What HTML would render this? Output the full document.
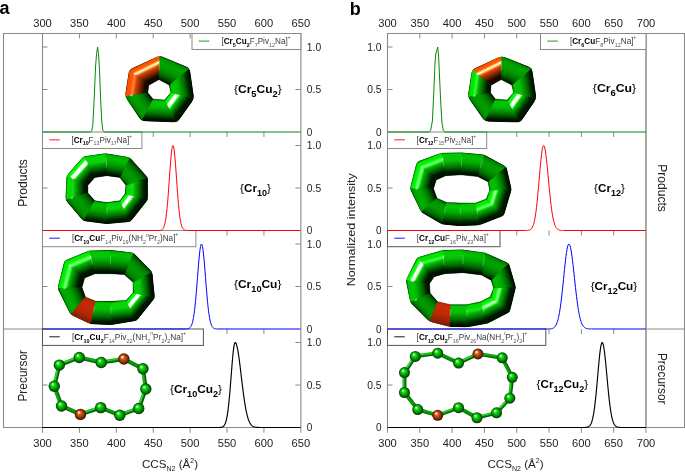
<!DOCTYPE html>
<html lang="en"><head><meta charset="utf-8"><title>CCS distributions</title>
<style>html,body{margin:0;padding:0;background:#fff}svg{display:block}text{font-family:"Liberation Sans",sans-serif}</style></head>
<body>
<svg width="685" height="474" viewBox="0 0 685 474">
<rect width="685" height="474" fill="#fff"/>
<defs>
<clipPath id="c1"><path d="M163.97 57.14 Q159.82 55.4 155.74 57.3 L133.06 67.84 Q128.98 69.74 128.3 74.19 L125.54 92.18 Q124.86 96.63 127.39 100.35 L139.01 117.47 Q141.53 121.19 146.03 121.35 L172.89 122.29 Q177.39 122.45 180 118.78 L191.63 102.45 Q194.24 98.78 193.59 94.33 L190.41 72.4 Q189.76 67.95 185.61 66.21 Z"/></clipPath>
<linearGradient id="g2" gradientUnits="userSpaceOnUse" x1="144.27" y1="62.63" x2="153.94" y2="82.41"><stop offset="0" stop-color="#621d00"/><stop offset="0.03" stop-color="#ce3d00"/><stop offset="0.05" stop-color="#ff4d00"/><stop offset="0.1" stop-color="#ff5500"/><stop offset="0.15" stop-color="#ff5803"/><stop offset="0.17" stop-color="#ff620e"/><stop offset="0.2" stop-color="#ff7d2b"/><stop offset="0.25" stop-color="#ffdf90"/><stop offset="0.28" stop-color="#fffcaf"/><stop offset="0.3" stop-color="#fff3a8"/><stop offset="0.38" stop-color="#ff6e29"/><stop offset="0.4" stop-color="#ee5311"/><stop offset="0.45" stop-color="#cc3e02"/><stop offset="0.7" stop-color="#561a00"/><stop offset="0.8" stop-color="#1a0800"/><stop offset="0.97" stop-color="#130600"/><stop offset="1" stop-color="#0a0300"/></linearGradient>
<linearGradient id="g3" gradientUnits="userSpaceOnUse" x1="126.72" y1="84.56" x2="148.46" y2="87.73"><stop offset="0" stop-color="#5b1b00"/><stop offset="0.03" stop-color="#c13a00"/><stop offset="0.05" stop-color="#f34800"/><stop offset="0.07" stop-color="#ff5000"/><stop offset="0.2" stop-color="#ff5607"/><stop offset="0.28" stop-color="#ff7b30"/><stop offset="0.3" stop-color="#ff7e35"/><stop offset="0.35" stop-color="#ff6722"/><stop offset="0.42" stop-color="#d54204"/><stop offset="0.7" stop-color="#5d1c00"/><stop offset="0.82" stop-color="#1a0800"/><stop offset="0.97" stop-color="#130600"/><stop offset="1" stop-color="#0a0300"/></linearGradient>
<linearGradient id="g4" gradientUnits="userSpaceOnUse" x1="133.07" y1="108.73" x2="150.62" y2="96.18"><stop offset="0" stop-color="#001d00"/><stop offset="0.03" stop-color="#004f00"/><stop offset="0.05" stop-color="#006d00"/><stop offset="0.07" stop-color="#008100"/><stop offset="0.23" stop-color="#009c00"/><stop offset="0.47" stop-color="#009c00"/><stop offset="0.72" stop-color="#007800"/><stop offset="0.9" stop-color="#004200"/><stop offset="0.97" stop-color="#001000"/><stop offset="1" stop-color="#000900"/></linearGradient>
<linearGradient id="g5" gradientUnits="userSpaceOnUse" x1="158.69" y1="121.78" x2="159.7" y2="99.62"><stop offset="0" stop-color="#000900"/><stop offset="0.1" stop-color="#001600"/><stop offset="0.12" stop-color="#001600"/><stop offset="0.35" stop-color="#007000"/><stop offset="0.65" stop-color="#03ba03"/><stop offset="0.88" stop-color="#00c600"/><stop offset="0.93" stop-color="#00c000"/><stop offset="0.95" stop-color="#00aa00"/><stop offset="0.97" stop-color="#008500"/><stop offset="1" stop-color="#003c00"/></linearGradient>
<linearGradient id="g6" gradientUnits="userSpaceOnUse" x1="186.05" y1="110.3" x2="167.56" y2="96.59"><stop offset="0" stop-color="#000900"/><stop offset="0.1" stop-color="#001600"/><stop offset="0.23" stop-color="#001b00"/><stop offset="0.47" stop-color="#009000"/><stop offset="0.57" stop-color="#09be09"/><stop offset="0.6" stop-color="#1edb1e"/><stop offset="0.62" stop-color="#51ff51"/><stop offset="0.65" stop-color="#b4ffb4"/><stop offset="0.68" stop-color="#ffffff"/><stop offset="0.78" stop-color="#ffffff"/><stop offset="0.8" stop-color="#d7ffd7"/><stop offset="0.82" stop-color="#54ff54"/><stop offset="0.85" stop-color="#16ff16"/><stop offset="0.88" stop-color="#03ff03"/><stop offset="0.93" stop-color="#00fd00"/><stop offset="0.95" stop-color="#00e600"/><stop offset="0.97" stop-color="#00b800"/><stop offset="1" stop-color="#005900"/></linearGradient>
<linearGradient id="g7" gradientUnits="userSpaceOnUse" x1="192.14" y1="84.23" x2="169.9" y2="87.87"><stop offset="0" stop-color="#000900"/><stop offset="0.1" stop-color="#001600"/><stop offset="0.15" stop-color="#001f00"/><stop offset="0.35" stop-color="#006f00"/><stop offset="0.65" stop-color="#04bc04"/><stop offset="0.88" stop-color="#00c800"/><stop offset="0.93" stop-color="#00c300"/><stop offset="0.95" stop-color="#00ad00"/><stop offset="0.97" stop-color="#008700"/><stop offset="1" stop-color="#003d00"/></linearGradient>
<linearGradient id="g8" gradientUnits="userSpaceOnUse" x1="174.14" y1="61.38" x2="164.68" y2="82.58"><stop offset="0" stop-color="#002200"/><stop offset="0.03" stop-color="#005800"/><stop offset="0.05" stop-color="#007700"/><stop offset="0.07" stop-color="#008b00"/><stop offset="0.23" stop-color="#00a300"/><stop offset="0.47" stop-color="#009d00"/><stop offset="0.72" stop-color="#007300"/><stop offset="0.9" stop-color="#003800"/><stop offset="0.97" stop-color="#001000"/><stop offset="1" stop-color="#000900"/></linearGradient>
<clipPath id="c9"><path d="M505.77 57.43 Q501.59 55.76 497.52 57.67 L475.9 67.83 Q471.83 69.74 471.16 74.19 L468.38 92.54 Q467.71 96.99 470.27 100.69 L482.18 117.85 Q484.74 121.55 489.24 121.66 L515.92 122.33 Q520.42 122.45 522.95 118.73 L534.02 102.5 Q536.55 98.78 535.9 94.33 L532.72 72.4 Q532.07 67.95 527.89 66.28 Z"/></clipPath>
<linearGradient id="g10" gradientUnits="userSpaceOnUse" x1="486.59" y1="62.81" x2="496.25" y2="82.41"><stop offset="0" stop-color="#621d00"/><stop offset="0.03" stop-color="#ce3d00"/><stop offset="0.05" stop-color="#ff4d00"/><stop offset="0.1" stop-color="#ff5500"/><stop offset="0.15" stop-color="#ff5803"/><stop offset="0.17" stop-color="#ff620f"/><stop offset="0.2" stop-color="#ff7e2c"/><stop offset="0.25" stop-color="#ffe393"/><stop offset="0.28" stop-color="#ffffb3"/><stop offset="0.3" stop-color="#fff6ab"/><stop offset="0.38" stop-color="#ff6e2a"/><stop offset="0.4" stop-color="#ee5311"/><stop offset="0.45" stop-color="#cc3e02"/><stop offset="0.7" stop-color="#561a00"/><stop offset="0.8" stop-color="#1a0800"/><stop offset="0.97" stop-color="#130600"/><stop offset="1" stop-color="#0a0300"/></linearGradient>
<linearGradient id="g11" gradientUnits="userSpaceOnUse" x1="469.58" y1="84.8" x2="490.94" y2="87.66"><stop offset="0" stop-color="#004c00"/><stop offset="0.03" stop-color="#00a200"/><stop offset="0.05" stop-color="#00cc00"/><stop offset="0.07" stop-color="#00e300"/><stop offset="0.2" stop-color="#06e506"/><stop offset="0.28" stop-color="#2cff2c"/><stop offset="0.3" stop-color="#31ff31"/><stop offset="0.35" stop-color="#20e320"/><stop offset="0.42" stop-color="#04b404"/><stop offset="0.72" stop-color="#004400"/><stop offset="0.82" stop-color="#001600"/><stop offset="0.97" stop-color="#001000"/><stop offset="1" stop-color="#000900"/></linearGradient>
<linearGradient id="g12" gradientUnits="userSpaceOnUse" x1="475.92" y1="108.85" x2="493.29" y2="96.43"><stop offset="0" stop-color="#001d00"/><stop offset="0.03" stop-color="#004f00"/><stop offset="0.05" stop-color="#006d00"/><stop offset="0.07" stop-color="#008100"/><stop offset="0.23" stop-color="#009c00"/><stop offset="0.47" stop-color="#009c00"/><stop offset="0.72" stop-color="#007800"/><stop offset="0.9" stop-color="#004200"/><stop offset="0.97" stop-color="#001000"/><stop offset="1" stop-color="#000900"/></linearGradient>
<linearGradient id="g13" gradientUnits="userSpaceOnUse" x1="501.57" y1="121.96" x2="502.42" y2="99.63"><stop offset="0" stop-color="#000900"/><stop offset="0.1" stop-color="#001600"/><stop offset="0.12" stop-color="#001600"/><stop offset="0.35" stop-color="#007000"/><stop offset="0.65" stop-color="#03bb03"/><stop offset="0.88" stop-color="#00c700"/><stop offset="0.93" stop-color="#00c100"/><stop offset="0.95" stop-color="#00ab00"/><stop offset="0.97" stop-color="#008600"/><stop offset="1" stop-color="#003c00"/></linearGradient>
<linearGradient id="g14" gradientUnits="userSpaceOnUse" x1="528.81" y1="110.15" x2="510.13" y2="96.73"><stop offset="0" stop-color="#000900"/><stop offset="0.1" stop-color="#001600"/><stop offset="0.23" stop-color="#001b00"/><stop offset="0.47" stop-color="#009000"/><stop offset="0.57" stop-color="#09be09"/><stop offset="0.6" stop-color="#1edb1e"/><stop offset="0.62" stop-color="#50ff50"/><stop offset="0.65" stop-color="#b2ffb2"/><stop offset="0.68" stop-color="#ffffff"/><stop offset="0.78" stop-color="#ffffff"/><stop offset="0.8" stop-color="#d2ffd2"/><stop offset="0.82" stop-color="#51ff51"/><stop offset="0.85" stop-color="#15ff15"/><stop offset="0.88" stop-color="#03ff03"/><stop offset="0.93" stop-color="#00fd00"/><stop offset="0.95" stop-color="#00e500"/><stop offset="0.97" stop-color="#00b800"/><stop offset="1" stop-color="#005900"/></linearGradient>
<linearGradient id="g15" gradientUnits="userSpaceOnUse" x1="534.46" y1="84.26" x2="512.56" y2="87.84"><stop offset="0" stop-color="#000900"/><stop offset="0.1" stop-color="#001600"/><stop offset="0.15" stop-color="#001f00"/><stop offset="0.35" stop-color="#006f00"/><stop offset="0.65" stop-color="#04bc04"/><stop offset="0.88" stop-color="#00c800"/><stop offset="0.93" stop-color="#00c300"/><stop offset="0.95" stop-color="#00ad00"/><stop offset="0.97" stop-color="#008700"/><stop offset="1" stop-color="#003d00"/></linearGradient>
<linearGradient id="g16" gradientUnits="userSpaceOnUse" x1="516.17" y1="61.57" x2="507.18" y2="82.57"><stop offset="0" stop-color="#002300"/><stop offset="0.03" stop-color="#005a00"/><stop offset="0.05" stop-color="#007900"/><stop offset="0.07" stop-color="#008d00"/><stop offset="0.23" stop-color="#00a400"/><stop offset="0.47" stop-color="#009d00"/><stop offset="0.72" stop-color="#007100"/><stop offset="0.9" stop-color="#003600"/><stop offset="0.97" stop-color="#001000"/><stop offset="1" stop-color="#000900"/></linearGradient>
<clipPath id="c17"><path d="M108.99 153.69 Q106.03 153.19 103.06 153.6 L86.51 155.89 Q83.54 156.3 81.55 158.55 L68.4 173.43 Q66.42 175.68 66.29 178.67 L65.51 196.9 Q65.38 199.89 67.31 202.19 L81.26 218.71 Q83.2 221 86.17 221.39 L103.92 223.72 Q106.89 224.11 109.88 223.83 L127.61 222.15 Q130.59 221.86 132.45 219.51 L146.03 202.25 Q147.89 199.89 147.89 196.89 L147.89 180.41 Q147.89 177.41 145.89 175.17 L131.73 159.4 Q129.73 157.17 126.77 156.67 Z"/></clipPath>
<linearGradient id="g18" gradientUnits="userSpaceOnUse" x1="96.26" y1="154.54" x2="99.37" y2="176.75"><stop offset="0" stop-color="#004600"/><stop offset="0.03" stop-color="#009700"/><stop offset="0.05" stop-color="#00bf00"/><stop offset="0.07" stop-color="#00d600"/><stop offset="0.25" stop-color="#07d707"/><stop offset="0.33" stop-color="#10d410"/><stop offset="0.5" stop-color="#009a00"/><stop offset="0.75" stop-color="#004000"/><stop offset="0.85" stop-color="#001600"/><stop offset="0.97" stop-color="#001000"/><stop offset="1" stop-color="#000900"/></linearGradient>
<linearGradient id="g19" gradientUnits="userSpaceOnUse" x1="74.77" y1="166.22" x2="91.53" y2="181.06"><stop offset="0" stop-color="#005900"/><stop offset="0.03" stop-color="#00b900"/><stop offset="0.05" stop-color="#00e600"/><stop offset="0.07" stop-color="#00fd00"/><stop offset="0.12" stop-color="#04ff04"/><stop offset="0.15" stop-color="#17ff17"/><stop offset="0.17" stop-color="#5aff5a"/><stop offset="0.2" stop-color="#e6ffe6"/><stop offset="0.23" stop-color="#ffffff"/><stop offset="0.33" stop-color="#ffffff"/><stop offset="0.35" stop-color="#baffba"/><stop offset="0.38" stop-color="#53ff53"/><stop offset="0.4" stop-color="#1edc1e"/><stop offset="0.42" stop-color="#09be09"/><stop offset="0.53" stop-color="#009000"/><stop offset="0.78" stop-color="#001b00"/><stop offset="0.97" stop-color="#001000"/><stop offset="1" stop-color="#000900"/></linearGradient>
<linearGradient id="g20" gradientUnits="userSpaceOnUse" x1="65.89" y1="188.08" x2="87.88" y2="188.79"><stop offset="0" stop-color="#004700"/><stop offset="0.03" stop-color="#009a00"/><stop offset="0.05" stop-color="#00c300"/><stop offset="0.07" stop-color="#00d900"/><stop offset="0.23" stop-color="#05da05"/><stop offset="0.33" stop-color="#14da14"/><stop offset="0.47" stop-color="#00a100"/><stop offset="0.72" stop-color="#004900"/><stop offset="0.82" stop-color="#001a00"/><stop offset="0.97" stop-color="#001000"/><stop offset="1" stop-color="#000900"/></linearGradient>
<linearGradient id="g21" gradientUnits="userSpaceOnUse" x1="74.54" y1="210.74" x2="91.08" y2="196.58"><stop offset="0" stop-color="#001700"/><stop offset="0.03" stop-color="#004300"/><stop offset="0.07" stop-color="#007300"/><stop offset="0.23" stop-color="#009300"/><stop offset="0.47" stop-color="#009b00"/><stop offset="0.72" stop-color="#007f00"/><stop offset="0.9" stop-color="#004f00"/><stop offset="0.95" stop-color="#003200"/><stop offset="1" stop-color="#000900"/></linearGradient>
<linearGradient id="g22" gradientUnits="userSpaceOnUse" x1="96.5" y1="222.75" x2="99.38" y2="201.43"><stop offset="0" stop-color="#000900"/><stop offset="0.12" stop-color="#001e00"/><stop offset="0.33" stop-color="#006d00"/><stop offset="0.6" stop-color="#01ad01"/><stop offset="0.82" stop-color="#00be00"/><stop offset="0.93" stop-color="#00b400"/><stop offset="0.95" stop-color="#009f00"/><stop offset="0.97" stop-color="#007b00"/><stop offset="1" stop-color="#003600"/></linearGradient>
<linearGradient id="g23" gradientUnits="userSpaceOnUse" x1="117.24" y1="223.15" x2="114.89" y2="201.46"><stop offset="0" stop-color="#000900"/><stop offset="0.1" stop-color="#001600"/><stop offset="0.15" stop-color="#001600"/><stop offset="0.4" stop-color="#007b00"/><stop offset="0.62" stop-color="#07c007"/><stop offset="0.7" stop-color="#0bd20b"/><stop offset="0.9" stop-color="#00d500"/><stop offset="0.93" stop-color="#00d200"/><stop offset="0.95" stop-color="#00bc00"/><stop offset="0.97" stop-color="#009400"/><stop offset="1" stop-color="#004400"/></linearGradient>
<linearGradient id="g24" gradientUnits="userSpaceOnUse" x1="139.37" y1="210.72" x2="122.34" y2="197.46"><stop offset="0" stop-color="#000900"/><stop offset="0.1" stop-color="#001600"/><stop offset="0.23" stop-color="#001b00"/><stop offset="0.47" stop-color="#009000"/><stop offset="0.57" stop-color="#09be09"/><stop offset="0.6" stop-color="#1edb1e"/><stop offset="0.62" stop-color="#52ff52"/><stop offset="0.65" stop-color="#b7ffb7"/><stop offset="0.68" stop-color="#ffffff"/><stop offset="0.78" stop-color="#ffffff"/><stop offset="0.8" stop-color="#dfffdf"/><stop offset="0.82" stop-color="#57ff57"/><stop offset="0.85" stop-color="#16ff16"/><stop offset="0.88" stop-color="#03ff03"/><stop offset="0.93" stop-color="#00fd00"/><stop offset="0.95" stop-color="#00e600"/><stop offset="0.97" stop-color="#00b800"/><stop offset="1" stop-color="#005900"/></linearGradient>
<linearGradient id="g25" gradientUnits="userSpaceOnUse" x1="147.87" y1="189.39" x2="125.51" y2="188.77"><stop offset="0" stop-color="#000900"/><stop offset="0.1" stop-color="#001600"/><stop offset="0.17" stop-color="#001a00"/><stop offset="0.4" stop-color="#007a00"/><stop offset="0.6" stop-color="#06ba06"/><stop offset="0.7" stop-color="#14dd14"/><stop offset="0.82" stop-color="#00da00"/><stop offset="0.93" stop-color="#00d800"/><stop offset="0.95" stop-color="#00c200"/><stop offset="0.97" stop-color="#009900"/><stop offset="1" stop-color="#004700"/></linearGradient>
<linearGradient id="g26" gradientUnits="userSpaceOnUse" x1="138.87" y1="167.36" x2="122.83" y2="181.22"><stop offset="0" stop-color="#000900"/><stop offset="0.07" stop-color="#004400"/><stop offset="0.23" stop-color="#007500"/><stop offset="0.47" stop-color="#009800"/><stop offset="0.72" stop-color="#009800"/><stop offset="0.9" stop-color="#007a00"/><stop offset="0.93" stop-color="#007200"/><stop offset="0.97" stop-color="#004300"/><stop offset="1" stop-color="#001600"/></linearGradient>
<linearGradient id="g27" gradientUnits="userSpaceOnUse" x1="117.31" y1="155.09" x2="113.95" y2="176.63"><stop offset="0" stop-color="#003500"/><stop offset="0.03" stop-color="#007900"/><stop offset="0.05" stop-color="#009c00"/><stop offset="0.07" stop-color="#00b200"/><stop offset="0.23" stop-color="#00bc00"/><stop offset="0.45" stop-color="#00a400"/><stop offset="0.7" stop-color="#006600"/><stop offset="0.9" stop-color="#001600"/><stop offset="1" stop-color="#000900"/></linearGradient>
<clipPath id="c28"><path d="M113.51 250.32 Q110.53 249.98 107.53 250.05 L91.91 250.42 Q88.91 250.5 86.14 251.65 L67.13 259.55 Q64.35 260.7 63.63 263.61 L58.16 285.46 Q57.44 288.37 58.76 291.06 L69.08 311.97 Q70.41 314.66 73.12 315.94 L87.93 322.9 Q90.64 324.17 93.64 324.3 L108.4 324.91 Q111.4 325.04 114.35 324.54 L133.86 321.22 Q136.82 320.71 138.69 318.37 L153.11 300.23 Q154.98 297.89 154.68 294.9 L152.69 274.93 Q152.39 271.94 150.28 269.8 L135.46 254.71 Q133.36 252.57 130.38 252.23 Z"/></clipPath>
<linearGradient id="g29" gradientUnits="userSpaceOnUse" x1="101.07" y1="250.22" x2="101.4" y2="273.69"><stop offset="0" stop-color="#003f00"/><stop offset="0.03" stop-color="#008b00"/><stop offset="0.05" stop-color="#00b200"/><stop offset="0.07" stop-color="#00c700"/><stop offset="0.25" stop-color="#01c901"/><stop offset="0.4" stop-color="#03b303"/><stop offset="0.7" stop-color="#005c00"/><stop offset="0.88" stop-color="#001600"/><stop offset="0.97" stop-color="#001000"/><stop offset="1" stop-color="#000900"/></linearGradient>
<linearGradient id="g30" gradientUnits="userSpaceOnUse" x1="78.65" y1="254.76" x2="87.76" y2="276.67"><stop offset="0" stop-color="#005100"/><stop offset="0.03" stop-color="#00aa00"/><stop offset="0.05" stop-color="#00d600"/><stop offset="0.07" stop-color="#00ed00"/><stop offset="0.17" stop-color="#08f108"/><stop offset="0.2" stop-color="#19ff19"/><stop offset="0.25" stop-color="#5cff5c"/><stop offset="0.28" stop-color="#75ff75"/><stop offset="0.3" stop-color="#75ff75"/><stop offset="0.35" stop-color="#3dff3d"/><stop offset="0.38" stop-color="#21e121"/><stop offset="0.42" stop-color="#05b705"/><stop offset="0.72" stop-color="#003f00"/><stop offset="0.8" stop-color="#001900"/><stop offset="0.97" stop-color="#001000"/><stop offset="1" stop-color="#000900"/></linearGradient>
<linearGradient id="g31" gradientUnits="userSpaceOnUse" x1="60.6" y1="275.7" x2="83.59" y2="281.59"><stop offset="0" stop-color="#005100"/><stop offset="0.03" stop-color="#00aa00"/><stop offset="0.05" stop-color="#00d500"/><stop offset="0.07" stop-color="#00ec00"/><stop offset="0.17" stop-color="#07f007"/><stop offset="0.2" stop-color="#17fd17"/><stop offset="0.25" stop-color="#58ff58"/><stop offset="0.28" stop-color="#70ff70"/><stop offset="0.3" stop-color="#71ff71"/><stop offset="0.35" stop-color="#3cff3c"/><stop offset="0.4" stop-color="#0ec70e"/><stop offset="0.47" stop-color="#00a300"/><stop offset="0.72" stop-color="#003f00"/><stop offset="0.8" stop-color="#001900"/><stop offset="0.97" stop-color="#001000"/><stop offset="1" stop-color="#000900"/></linearGradient>
<linearGradient id="g32" gradientUnits="userSpaceOnUse" x1="63.89" y1="301.45" x2="83.76" y2="292.33"><stop offset="0" stop-color="#002b00"/><stop offset="0.03" stop-color="#006800"/><stop offset="0.05" stop-color="#008900"/><stop offset="0.07" stop-color="#009e00"/><stop offset="0.23" stop-color="#00af00"/><stop offset="0.45" stop-color="#00a100"/><stop offset="0.7" stop-color="#006f00"/><stop offset="0.88" stop-color="#003200"/><stop offset="0.93" stop-color="#001800"/><stop offset="1" stop-color="#000900"/></linearGradient>
<linearGradient id="g33" gradientUnits="userSpaceOnUse" x1="80.93" y1="319.6" x2="90.24" y2="299"><stop offset="0" stop-color="#7c1b05"/><stop offset="0.25" stop-color="#ab2607"/><stop offset="0.62" stop-color="#c42b08"/><stop offset="0.9" stop-color="#bb2907"/><stop offset="0.95" stop-color="#af2607"/><stop offset="0.97" stop-color="#a02306"/><stop offset="1" stop-color="#881e05"/></linearGradient>
<linearGradient id="g34" gradientUnits="userSpaceOnUse" x1="101.82" y1="324.63" x2="102.39" y2="301.32"><stop offset="0" stop-color="#000900"/><stop offset="0.1" stop-color="#001600"/><stop offset="0.15" stop-color="#001f00"/><stop offset="0.35" stop-color="#006f00"/><stop offset="0.65" stop-color="#04bc04"/><stop offset="0.88" stop-color="#00c800"/><stop offset="0.93" stop-color="#00c300"/><stop offset="0.95" stop-color="#00ad00"/><stop offset="0.97" stop-color="#008700"/><stop offset="1" stop-color="#003d00"/></linearGradient>
<linearGradient id="g35" gradientUnits="userSpaceOnUse" x1="122.63" y1="323.06" x2="119.8" y2="300.72"><stop offset="0" stop-color="#000900"/><stop offset="0.1" stop-color="#001600"/><stop offset="0.15" stop-color="#001600"/><stop offset="0.42" stop-color="#008300"/><stop offset="0.62" stop-color="#08c208"/><stop offset="0.7" stop-color="#0ed50e"/><stop offset="0.85" stop-color="#00d800"/><stop offset="0.93" stop-color="#00d400"/><stop offset="0.95" stop-color="#00be00"/><stop offset="0.97" stop-color="#009600"/><stop offset="1" stop-color="#004500"/></linearGradient>
<linearGradient id="g36" gradientUnits="userSpaceOnUse" x1="145.74" y1="309.5" x2="129.72" y2="296.39"><stop offset="0" stop-color="#000900"/><stop offset="0.1" stop-color="#001600"/><stop offset="0.23" stop-color="#001b00"/><stop offset="0.47" stop-color="#009000"/><stop offset="0.57" stop-color="#09be09"/><stop offset="0.6" stop-color="#1edc1e"/><stop offset="0.62" stop-color="#53ff53"/><stop offset="0.65" stop-color="#b9ffb9"/><stop offset="0.68" stop-color="#ffffff"/><stop offset="0.78" stop-color="#ffffff"/><stop offset="0.8" stop-color="#e4ffe4"/><stop offset="0.82" stop-color="#59ff59"/><stop offset="0.85" stop-color="#17ff17"/><stop offset="0.88" stop-color="#04ff04"/><stop offset="0.93" stop-color="#00fd00"/><stop offset="0.95" stop-color="#00e600"/><stop offset="0.97" stop-color="#00b800"/><stop offset="1" stop-color="#005900"/></linearGradient>
<linearGradient id="g37" gradientUnits="userSpaceOnUse" x1="153.72" y1="285.47" x2="132.98" y2="286.95"><stop offset="0" stop-color="#000900"/><stop offset="0.1" stop-color="#001600"/><stop offset="0.15" stop-color="#001600"/><stop offset="0.35" stop-color="#006b00"/><stop offset="0.68" stop-color="#08c908"/><stop offset="0.9" stop-color="#00d100"/><stop offset="0.93" stop-color="#00ce00"/><stop offset="0.95" stop-color="#00b800"/><stop offset="0.97" stop-color="#009000"/><stop offset="1" stop-color="#004200"/></linearGradient>
<linearGradient id="g38" gradientUnits="userSpaceOnUse" x1="143.3" y1="262.68" x2="128.26" y2="278.01"><stop offset="0" stop-color="#000900"/><stop offset="0.05" stop-color="#003f00"/><stop offset="0.1" stop-color="#005c00"/><stop offset="0.28" stop-color="#008700"/><stop offset="0.53" stop-color="#009a00"/><stop offset="0.78" stop-color="#008a00"/><stop offset="0.93" stop-color="#006500"/><stop offset="0.97" stop-color="#003800"/><stop offset="1" stop-color="#001000"/></linearGradient>
<linearGradient id="g39" gradientUnits="userSpaceOnUse" x1="120.79" y1="251.17" x2="118.61" y2="274.21"><stop offset="0" stop-color="#003900"/><stop offset="0.03" stop-color="#007f00"/><stop offset="0.05" stop-color="#00a400"/><stop offset="0.07" stop-color="#00ba00"/><stop offset="0.23" stop-color="#00c100"/><stop offset="0.42" stop-color="#01aa01"/><stop offset="0.7" stop-color="#006200"/><stop offset="0.88" stop-color="#001a00"/><stop offset="1" stop-color="#000900"/></linearGradient>
<clipPath id="c40"><path d="M465.05 152.78 Q462.06 152.5 459.06 152.55 L444.31 152.79 Q441.31 152.84 438.5 153.87 L419.58 160.8 Q416.76 161.83 416.01 164.74 L410.59 185.73 Q409.84 188.64 411.13 191.35 L419.8 209.62 Q421.08 212.33 423.68 213.82 L439.58 222.94 Q442.18 224.43 445.16 224.72 L457.35 225.88 Q460.33 226.16 463.33 226.02 L476.36 225.43 Q479.36 225.3 482.15 224.21 L501.11 216.87 Q503.91 215.78 504.76 212.91 L510.84 192.38 Q511.69 189.5 511.03 186.58 L507.17 169.6 Q506.5 166.68 503.86 165.25 L486.67 155.99 Q484.02 154.57 481.04 154.29 Z"/></clipPath>
<linearGradient id="g41" gradientUnits="userSpaceOnUse" x1="452.18" y1="152.65" x2="452.93" y2="175.25"><stop offset="0" stop-color="#004000"/><stop offset="0.03" stop-color="#008d00"/><stop offset="0.05" stop-color="#00b400"/><stop offset="0.07" stop-color="#00ca00"/><stop offset="0.25" stop-color="#02cb02"/><stop offset="0.38" stop-color="#05bb05"/><stop offset="0.68" stop-color="#006400"/><stop offset="0.85" stop-color="#001900"/><stop offset="0.97" stop-color="#001000"/><stop offset="1" stop-color="#000900"/></linearGradient>
<linearGradient id="g42" gradientUnits="userSpaceOnUse" x1="430.7" y1="156.69" x2="439.22" y2="178.48"><stop offset="0" stop-color="#005000"/><stop offset="0.03" stop-color="#00a900"/><stop offset="0.05" stop-color="#00d400"/><stop offset="0.07" stop-color="#00eb00"/><stop offset="0.17" stop-color="#06ee06"/><stop offset="0.2" stop-color="#14f914"/><stop offset="0.28" stop-color="#64ff64"/><stop offset="0.3" stop-color="#66ff66"/><stop offset="0.35" stop-color="#37fe37"/><stop offset="0.4" stop-color="#0dc60d"/><stop offset="0.47" stop-color="#00a200"/><stop offset="0.72" stop-color="#004000"/><stop offset="0.8" stop-color="#001a00"/><stop offset="0.97" stop-color="#001000"/><stop offset="1" stop-color="#000900"/></linearGradient>
<linearGradient id="g43" gradientUnits="userSpaceOnUse" x1="412.89" y1="176.78" x2="435.24" y2="182.77"><stop offset="0" stop-color="#005100"/><stop offset="0.03" stop-color="#00ab00"/><stop offset="0.05" stop-color="#00d600"/><stop offset="0.07" stop-color="#00ed00"/><stop offset="0.17" stop-color="#08f208"/><stop offset="0.2" stop-color="#1aff1a"/><stop offset="0.25" stop-color="#60ff60"/><stop offset="0.28" stop-color="#7aff7a"/><stop offset="0.3" stop-color="#79ff79"/><stop offset="0.35" stop-color="#3fff3f"/><stop offset="0.38" stop-color="#21e221"/><stop offset="0.42" stop-color="#05b705"/><stop offset="0.72" stop-color="#003e00"/><stop offset="0.8" stop-color="#001800"/><stop offset="0.97" stop-color="#001000"/><stop offset="1" stop-color="#000900"/></linearGradient>
<linearGradient id="g44" gradientUnits="userSpaceOnUse" x1="415.77" y1="201.18" x2="434.95" y2="192.69"><stop offset="0" stop-color="#002c00"/><stop offset="0.03" stop-color="#006a00"/><stop offset="0.05" stop-color="#008b00"/><stop offset="0.07" stop-color="#00a000"/><stop offset="0.23" stop-color="#00b000"/><stop offset="0.45" stop-color="#00a100"/><stop offset="0.7" stop-color="#006e00"/><stop offset="0.88" stop-color="#003000"/><stop offset="0.93" stop-color="#001600"/><stop offset="1" stop-color="#000900"/></linearGradient>
<linearGradient id="g45" gradientUnits="userSpaceOnUse" x1="431.79" y1="218.47" x2="441.58" y2="200.22"><stop offset="0" stop-color="#000900"/><stop offset="0.03" stop-color="#001100"/><stop offset="0.1" stop-color="#004300"/><stop offset="0.28" stop-color="#007900"/><stop offset="0.53" stop-color="#009c00"/><stop offset="0.78" stop-color="#009b00"/><stop offset="0.93" stop-color="#007f00"/><stop offset="0.97" stop-color="#004e00"/><stop offset="1" stop-color="#001c00"/></linearGradient>
<linearGradient id="g46" gradientUnits="userSpaceOnUse" x1="451.54" y1="225.32" x2="453.13" y2="202.71"><stop offset="0" stop-color="#000900"/><stop offset="0.1" stop-color="#001600"/><stop offset="0.12" stop-color="#001700"/><stop offset="0.33" stop-color="#006900"/><stop offset="0.6" stop-color="#02b002"/><stop offset="0.8" stop-color="#00c400"/><stop offset="0.93" stop-color="#00bd00"/><stop offset="0.95" stop-color="#00a700"/><stop offset="0.97" stop-color="#008200"/><stop offset="1" stop-color="#003a00"/></linearGradient>
<linearGradient id="g47" gradientUnits="userSpaceOnUse" x1="469.27" y1="225.74" x2="468.7" y2="202.97"><stop offset="0" stop-color="#000900"/><stop offset="0.1" stop-color="#001600"/><stop offset="0.15" stop-color="#001a00"/><stop offset="0.35" stop-color="#006d00"/><stop offset="0.68" stop-color="#06c406"/><stop offset="0.9" stop-color="#00cc00"/><stop offset="0.93" stop-color="#00c900"/><stop offset="0.95" stop-color="#00b300"/><stop offset="0.97" stop-color="#008c00"/><stop offset="1" stop-color="#004000"/></linearGradient>
<linearGradient id="g48" gradientUnits="userSpaceOnUse" x1="490.33" y1="221.04" x2="482.39" y2="200.5"><stop offset="0" stop-color="#000900"/><stop offset="0.1" stop-color="#001600"/><stop offset="0.2" stop-color="#001a00"/><stop offset="0.42" stop-color="#007f00"/><stop offset="0.57" stop-color="#05b605"/><stop offset="0.62" stop-color="#1ddd1d"/><stop offset="0.65" stop-color="#36fc36"/><stop offset="0.7" stop-color="#63ff63"/><stop offset="0.72" stop-color="#61ff61"/><stop offset="0.8" stop-color="#13f813"/><stop offset="0.85" stop-color="#01eb01"/><stop offset="0.93" stop-color="#00eb00"/><stop offset="0.95" stop-color="#00d400"/><stop offset="0.97" stop-color="#00a900"/><stop offset="1" stop-color="#005000"/></linearGradient>
<linearGradient id="g49" gradientUnits="userSpaceOnUse" x1="508.03" y1="201.93" x2="487.77" y2="195.41"><stop offset="0" stop-color="#000900"/><stop offset="0.1" stop-color="#001600"/><stop offset="0.2" stop-color="#001600"/><stop offset="0.42" stop-color="#007e00"/><stop offset="0.57" stop-color="#06b806"/><stop offset="0.6" stop-color="#11cb11"/><stop offset="0.62" stop-color="#28ea28"/><stop offset="0.65" stop-color="#4fff4f"/><stop offset="0.7" stop-color="#a2ffa2"/><stop offset="0.72" stop-color="#a9ffa9"/><stop offset="0.75" stop-color="#8aff8a"/><stop offset="0.8" stop-color="#29ff29"/><stop offset="0.82" stop-color="#0df90d"/><stop offset="0.88" stop-color="#00f100"/><stop offset="0.93" stop-color="#00f000"/><stop offset="0.95" stop-color="#00d900"/><stop offset="0.97" stop-color="#00ad00"/><stop offset="1" stop-color="#005300"/></linearGradient>
<linearGradient id="g50" gradientUnits="userSpaceOnUse" x1="509.47" y1="179.76" x2="488.5" y2="184.37"><stop offset="0" stop-color="#000900"/><stop offset="0.12" stop-color="#001800"/><stop offset="0.33" stop-color="#006a00"/><stop offset="0.6" stop-color="#02af02"/><stop offset="0.8" stop-color="#00c400"/><stop offset="0.93" stop-color="#00bc00"/><stop offset="0.95" stop-color="#00a600"/><stop offset="0.97" stop-color="#008100"/><stop offset="1" stop-color="#003a00"/></linearGradient>
<linearGradient id="g51" gradientUnits="userSpaceOnUse" x1="494.2" y1="160.06" x2="483.88" y2="179.68"><stop offset="0" stop-color="#001d00"/><stop offset="0.03" stop-color="#004f00"/><stop offset="0.05" stop-color="#006d00"/><stop offset="0.07" stop-color="#008000"/><stop offset="0.23" stop-color="#009c00"/><stop offset="0.47" stop-color="#009c00"/><stop offset="0.72" stop-color="#007800"/><stop offset="0.9" stop-color="#004200"/><stop offset="0.97" stop-color="#001000"/><stop offset="1" stop-color="#000900"/></linearGradient>
<linearGradient id="g52" gradientUnits="userSpaceOnUse" x1="472.33" y1="153.46" x2="470.12" y2="175.74"><stop offset="0" stop-color="#003800"/><stop offset="0.03" stop-color="#007f00"/><stop offset="0.05" stop-color="#00a400"/><stop offset="0.07" stop-color="#00b900"/><stop offset="0.23" stop-color="#00c100"/><stop offset="0.42" stop-color="#01aa01"/><stop offset="0.7" stop-color="#006300"/><stop offset="0.88" stop-color="#001a00"/><stop offset="1" stop-color="#000900"/></linearGradient>
<clipPath id="c53"><path d="M466.04 249.92 Q463.07 249.5 460.07 249.58 L445.92 249.95 Q442.92 250.03 440.04 250.85 L420.05 256.56 Q417.17 257.39 415.83 260.07 L407.12 277.48 Q405.78 280.16 406.36 283.11 L409.58 299.47 Q410.16 302.41 412.28 304.53 L427.31 319.56 Q429.43 321.68 432.34 322.43 L447.02 326.19 Q449.93 326.94 452.93 327 L464.45 327.23 Q467.45 327.29 470.4 326.74 L485 323.99 Q487.95 323.44 490.61 322.05 L507.18 313.43 Q509.85 312.05 510.56 309.13 L515.26 290.08 Q515.98 287.17 515.14 284.29 L509.81 266.05 Q508.97 263.17 506.23 261.95 L488.06 253.88 Q485.32 252.66 482.35 252.24 Z"/></clipPath>
<linearGradient id="g54" gradientUnits="userSpaceOnUse" x1="452.96" y1="249.77" x2="453.91" y2="273.15"><stop offset="0" stop-color="#004100"/><stop offset="0.03" stop-color="#008e00"/><stop offset="0.05" stop-color="#00b500"/><stop offset="0.07" stop-color="#00cb00"/><stop offset="0.25" stop-color="#02cc02"/><stop offset="0.38" stop-color="#05bb05"/><stop offset="0.68" stop-color="#006400"/><stop offset="0.85" stop-color="#001800"/><stop offset="0.97" stop-color="#001000"/><stop offset="1" stop-color="#000900"/></linearGradient>
<linearGradient id="g55" gradientUnits="userSpaceOnUse" x1="431.55" y1="253.28" x2="437.91" y2="275.6"><stop offset="0" stop-color="#004c00"/><stop offset="0.03" stop-color="#00a200"/><stop offset="0.05" stop-color="#00cd00"/><stop offset="0.07" stop-color="#00e300"/><stop offset="0.2" stop-color="#07e607"/><stop offset="0.28" stop-color="#2eff2e"/><stop offset="0.3" stop-color="#33ff33"/><stop offset="0.33" stop-color="#2ef72e"/><stop offset="0.4" stop-color="#09c009"/><stop offset="0.53" stop-color="#009200"/><stop offset="0.78" stop-color="#002c00"/><stop offset="0.82" stop-color="#001600"/><stop offset="0.97" stop-color="#001000"/><stop offset="1" stop-color="#000900"/></linearGradient>
<linearGradient id="g56" gradientUnits="userSpaceOnUse" x1="411.39" y1="268.93" x2="431.88" y2="280.01"><stop offset="0" stop-color="#005700"/><stop offset="0.03" stop-color="#00b500"/><stop offset="0.05" stop-color="#00e200"/><stop offset="0.07" stop-color="#00f900"/><stop offset="0.12" stop-color="#02fa02"/><stop offset="0.15" stop-color="#0dff0d"/><stop offset="0.17" stop-color="#33ff33"/><stop offset="0.2" stop-color="#8aff8a"/><stop offset="0.23" stop-color="#ffffff"/><stop offset="0.33" stop-color="#fdfffd"/><stop offset="0.35" stop-color="#90ff90"/><stop offset="0.38" stop-color="#43ff43"/><stop offset="0.4" stop-color="#1ad61a"/><stop offset="0.42" stop-color="#08bc08"/><stop offset="0.57" stop-color="#007c00"/><stop offset="0.8" stop-color="#001600"/><stop offset="0.97" stop-color="#001000"/><stop offset="1" stop-color="#000900"/></linearGradient>
<linearGradient id="g57" gradientUnits="userSpaceOnUse" x1="408.02" y1="291.62" x2="429.73" y2="288.16"><stop offset="0" stop-color="#003d00"/><stop offset="0.03" stop-color="#008700"/><stop offset="0.05" stop-color="#00ae00"/><stop offset="0.07" stop-color="#00c300"/><stop offset="0.23" stop-color="#00c800"/><stop offset="0.4" stop-color="#02b202"/><stop offset="0.68" stop-color="#006700"/><stop offset="0.88" stop-color="#001600"/><stop offset="0.97" stop-color="#001000"/><stop offset="1" stop-color="#000900"/></linearGradient>
<linearGradient id="g58" gradientUnits="userSpaceOnUse" x1="419.58" y1="311.82" x2="434.12" y2="297.73"><stop offset="0" stop-color="#001200"/><stop offset="0.03" stop-color="#003b00"/><stop offset="0.07" stop-color="#006900"/><stop offset="0.23" stop-color="#008d00"/><stop offset="0.47" stop-color="#009b00"/><stop offset="0.72" stop-color="#008400"/><stop offset="0.9" stop-color="#005800"/><stop offset="0.95" stop-color="#003b00"/><stop offset="1" stop-color="#000900"/></linearGradient>
<linearGradient id="g59" gradientUnits="userSpaceOnUse" x1="439.39" y1="324.24" x2="444.53" y2="303.27"><stop offset="0" stop-color="#7c1b05"/><stop offset="0.15" stop-color="#912006"/><stop offset="0.5" stop-color="#c02a08"/><stop offset="0.82" stop-color="#cb2d08"/><stop offset="0.93" stop-color="#c52b08"/><stop offset="0.97" stop-color="#ab2607"/><stop offset="1" stop-color="#8e1f06"/></linearGradient>
<linearGradient id="g60" gradientUnits="userSpaceOnUse" x1="458.57" y1="327.11" x2="458.81" y2="304.69"><stop offset="0" stop-color="#000900"/><stop offset="0.1" stop-color="#001600"/><stop offset="0.15" stop-color="#001d00"/><stop offset="0.35" stop-color="#006f00"/><stop offset="0.65" stop-color="#04bd04"/><stop offset="0.88" stop-color="#00ca00"/><stop offset="0.93" stop-color="#00c400"/><stop offset="0.95" stop-color="#00af00"/><stop offset="0.97" stop-color="#008800"/><stop offset="1" stop-color="#003e00"/></linearGradient>
<linearGradient id="g61" gradientUnits="userSpaceOnUse" x1="477.83" y1="325.34" x2="473.45" y2="303.23"><stop offset="0" stop-color="#000900"/><stop offset="0.1" stop-color="#001600"/><stop offset="0.17" stop-color="#001800"/><stop offset="0.4" stop-color="#007900"/><stop offset="0.6" stop-color="#07bc07"/><stop offset="0.7" stop-color="#1ae51a"/><stop offset="0.82" stop-color="#01dd01"/><stop offset="0.93" stop-color="#00db00"/><stop offset="0.95" stop-color="#00c500"/><stop offset="0.97" stop-color="#009c00"/><stop offset="1" stop-color="#004900"/></linearGradient>
<linearGradient id="g62" gradientUnits="userSpaceOnUse" x1="497.34" y1="318.54" x2="486.96" y2="298.46"><stop offset="0" stop-color="#000900"/><stop offset="0.1" stop-color="#001600"/><stop offset="0.2" stop-color="#001600"/><stop offset="0.45" stop-color="#008700"/><stop offset="0.57" stop-color="#06b906"/><stop offset="0.6" stop-color="#12cd12"/><stop offset="0.62" stop-color="#2cee2c"/><stop offset="0.65" stop-color="#58ff58"/><stop offset="0.7" stop-color="#bdffbd"/><stop offset="0.72" stop-color="#c8ffc8"/><stop offset="0.75" stop-color="#a7ffa7"/><stop offset="0.8" stop-color="#33ff33"/><stop offset="0.82" stop-color="#11ff11"/><stop offset="0.85" stop-color="#04f404"/><stop offset="0.93" stop-color="#00f200"/><stop offset="0.95" stop-color="#00db00"/><stop offset="0.97" stop-color="#00af00"/><stop offset="1" stop-color="#005400"/></linearGradient>
<linearGradient id="g63" gradientUnits="userSpaceOnUse" x1="513.07" y1="299.06" x2="491.82" y2="292.97"><stop offset="0" stop-color="#000900"/><stop offset="0.1" stop-color="#001600"/><stop offset="0.2" stop-color="#001800"/><stop offset="0.42" stop-color="#007e00"/><stop offset="0.57" stop-color="#05b805"/><stop offset="0.6" stop-color="#0fc90f"/><stop offset="0.62" stop-color="#24e524"/><stop offset="0.65" stop-color="#44ff44"/><stop offset="0.7" stop-color="#87ff87"/><stop offset="0.72" stop-color="#89ff89"/><stop offset="0.75" stop-color="#6dff6d"/><stop offset="0.8" stop-color="#1fff1f"/><stop offset="0.82" stop-color="#0af40a"/><stop offset="0.9" stop-color="#00ef00"/><stop offset="0.93" stop-color="#00ee00"/><stop offset="0.95" stop-color="#00d700"/><stop offset="0.97" stop-color="#00ac00"/><stop offset="1" stop-color="#005200"/></linearGradient>
<linearGradient id="g64" gradientUnits="userSpaceOnUse" x1="512.87" y1="276.49" x2="492.02" y2="282.79"><stop offset="0" stop-color="#000900"/><stop offset="0.1" stop-color="#001600"/><stop offset="0.3" stop-color="#006600"/><stop offset="0.57" stop-color="#01a801"/><stop offset="0.8" stop-color="#00bc00"/><stop offset="0.93" stop-color="#00b100"/><stop offset="0.95" stop-color="#009c00"/><stop offset="0.97" stop-color="#007800"/><stop offset="1" stop-color="#003500"/></linearGradient>
<linearGradient id="g65" gradientUnits="userSpaceOnUse" x1="496.5" y1="257.61" x2="486.92" y2="277.84"><stop offset="0" stop-color="#002000"/><stop offset="0.03" stop-color="#005500"/><stop offset="0.05" stop-color="#007300"/><stop offset="0.07" stop-color="#008700"/><stop offset="0.23" stop-color="#00a000"/><stop offset="0.47" stop-color="#009c00"/><stop offset="0.72" stop-color="#007400"/><stop offset="0.9" stop-color="#003c00"/><stop offset="0.97" stop-color="#001000"/><stop offset="1" stop-color="#000900"/></linearGradient>
<linearGradient id="g66" gradientUnits="userSpaceOnUse" x1="474.74" y1="251.15" x2="471.72" y2="273.7"><stop offset="0" stop-color="#003600"/><stop offset="0.03" stop-color="#007b00"/><stop offset="0.05" stop-color="#009f00"/><stop offset="0.07" stop-color="#00b500"/><stop offset="0.23" stop-color="#00be00"/><stop offset="0.42" stop-color="#01a901"/><stop offset="0.7" stop-color="#006500"/><stop offset="0.9" stop-color="#001600"/><stop offset="1" stop-color="#000900"/></linearGradient>
<linearGradient id="g67" gradientUnits="userSpaceOnUse" x1="68.6" y1="359.41" x2="70.03" y2="363.15"><stop offset="0" stop-color="#009600"/><stop offset="0.03" stop-color="#00ae00"/><stop offset="0.12" stop-color="#0ac70a"/><stop offset="0.23" stop-color="#2dd02d"/><stop offset="0.3" stop-color="#38d038"/><stop offset="0.38" stop-color="#29d029"/><stop offset="0.53" stop-color="#059905"/><stop offset="0.82" stop-color="#005a00"/><stop offset="1" stop-color="#005800"/></linearGradient>
<linearGradient id="g68" gradientUnits="userSpaceOnUse" x1="90.7" y1="358.07" x2="89.81" y2="361.96"><stop offset="0" stop-color="#007a00"/><stop offset="0.03" stop-color="#008e00"/><stop offset="0.1" stop-color="#00a000"/><stop offset="0.38" stop-color="#0faf0f"/><stop offset="0.8" stop-color="#007200"/><stop offset="0.95" stop-color="#005a00"/><stop offset="1" stop-color="#005800"/></linearGradient>
<linearGradient id="g69" gradientUnits="userSpaceOnUse" x1="112.24" y1="358.8" x2="112.85" y2="362.75"><stop offset="0" stop-color="#008e00"/><stop offset="0.03" stop-color="#00a500"/><stop offset="0.1" stop-color="#02b702"/><stop offset="0.28" stop-color="#22d022"/><stop offset="0.35" stop-color="#22cb22"/><stop offset="0.57" stop-color="#028e02"/><stop offset="0.85" stop-color="#005a00"/><stop offset="1" stop-color="#005800"/></linearGradient>
<linearGradient id="g70" gradientUnits="userSpaceOnUse" x1="134.31" y1="362.12" x2="132.49" y2="365.68"><stop offset="0" stop-color="#006a00"/><stop offset="0.05" stop-color="#008600"/><stop offset="0.28" stop-color="#039d03"/><stop offset="0.5" stop-color="#08a008"/><stop offset="0.9" stop-color="#006e00"/><stop offset="1" stop-color="#005800"/></linearGradient>
<linearGradient id="g71" gradientUnits="userSpaceOnUse" x1="146.36" y1="378.65" x2="142.39" y2="379.21"><stop offset="0" stop-color="#005800"/><stop offset="0.15" stop-color="#005d00"/><stop offset="0.5" stop-color="#08a008"/><stop offset="0.68" stop-color="#19c119"/><stop offset="0.93" stop-color="#00ac00"/><stop offset="0.97" stop-color="#009c00"/><stop offset="1" stop-color="#008700"/></linearGradient>
<linearGradient id="g72" gradientUnits="userSpaceOnUse" x1="144.14" y1="399.46" x2="140.39" y2="398.08"><stop offset="0" stop-color="#005800"/><stop offset="0.23" stop-color="#006000"/><stop offset="0.5" stop-color="#08a008"/><stop offset="0.6" stop-color="#24cb24"/><stop offset="0.7" stop-color="#44d044"/><stop offset="0.78" stop-color="#3bd03b"/><stop offset="0.88" stop-color="#0ecf0e"/><stop offset="0.97" stop-color="#00b200"/><stop offset="1" stop-color="#009a00"/></linearGradient>
<linearGradient id="g73" gradientUnits="userSpaceOnUse" x1="129.93" y1="413.74" x2="128.59" y2="409.97"><stop offset="0" stop-color="#005800"/><stop offset="0.2" stop-color="#005d00"/><stop offset="0.5" stop-color="#08a008"/><stop offset="0.62" stop-color="#28d028"/><stop offset="0.72" stop-color="#35d035"/><stop offset="0.85" stop-color="#10cc10"/><stop offset="0.95" stop-color="#00b700"/><stop offset="0.97" stop-color="#00ad00"/><stop offset="1" stop-color="#009600"/></linearGradient>
<linearGradient id="g74" gradientUnits="userSpaceOnUse" x1="109.53" y1="413.29" x2="111.01" y2="409.58"><stop offset="0" stop-color="#005800"/><stop offset="0.07" stop-color="#006100"/><stop offset="0.38" stop-color="#029002"/><stop offset="0.62" stop-color="#0aa70a"/><stop offset="0.93" stop-color="#009300"/><stop offset="0.97" stop-color="#008400"/><stop offset="1" stop-color="#007100"/></linearGradient>
<linearGradient id="g75" gradientUnits="userSpaceOnUse" x1="91.23" y1="412.91" x2="89.96" y2="409.11"><stop offset="0" stop-color="#005800"/><stop offset="0.2" stop-color="#005d00"/><stop offset="0.5" stop-color="#08a008"/><stop offset="0.62" stop-color="#27cf27"/><stop offset="0.72" stop-color="#33d033"/><stop offset="0.85" stop-color="#0fca0f"/><stop offset="0.95" stop-color="#00b700"/><stop offset="0.97" stop-color="#00ac00"/><stop offset="1" stop-color="#009500"/></linearGradient>
<linearGradient id="g76" gradientUnits="userSpaceOnUse" x1="70.19" y1="411.99" x2="71.82" y2="408.34"><stop offset="0" stop-color="#005800"/><stop offset="0.35" stop-color="#018e01"/><stop offset="0.6" stop-color="#0aa50a"/><stop offset="0.93" stop-color="#009000"/><stop offset="0.97" stop-color="#008100"/><stop offset="1" stop-color="#006e00"/></linearGradient>
<linearGradient id="g77" gradientUnits="userSpaceOnUse" x1="56.04" y1="396.76" x2="59.8" y2="395.38"><stop offset="0" stop-color="#007b00"/><stop offset="0.03" stop-color="#008f00"/><stop offset="0.1" stop-color="#00a100"/><stop offset="0.38" stop-color="#0faf0f"/><stop offset="0.78" stop-color="#007600"/><stop offset="0.95" stop-color="#005a00"/><stop offset="1" stop-color="#005800"/></linearGradient>
<linearGradient id="g78" gradientUnits="userSpaceOnUse" x1="54.88" y1="375.17" x2="58.77" y2="376.1"><stop offset="0" stop-color="#009700"/><stop offset="0.03" stop-color="#00ae00"/><stop offset="0.12" stop-color="#0ac80a"/><stop offset="0.23" stop-color="#2ed02e"/><stop offset="0.3" stop-color="#39d039"/><stop offset="0.38" stop-color="#29d029"/><stop offset="0.53" stop-color="#059805"/><stop offset="0.82" stop-color="#005a00"/><stop offset="1" stop-color="#005800"/></linearGradient>
<radialGradient id="g79" cx="0.5" cy="0.5" r="0.5" fx="0.34" fy="0.30"><stop offset="0" stop-color="#ffffff"/><stop offset="0.10" stop-color="#aaffaa"/><stop offset="0.30" stop-color="#19dc19"/><stop offset="0.65" stop-color="#009800"/><stop offset="0.9" stop-color="#005100"/><stop offset="1" stop-color="#002a00"/></radialGradient>
<radialGradient id="g80" cx="0.5" cy="0.5" r="0.5" fx="0.34" fy="0.30"><stop offset="0" stop-color="#ffffff"/><stop offset="0.10" stop-color="#fff2b6"/><stop offset="0.30" stop-color="#dc6125"/><stop offset="0.65" stop-color="#983809"/><stop offset="0.9" stop-color="#511e05"/><stop offset="1" stop-color="#2a0f02"/></radialGradient>
<linearGradient id="g81" gradientUnits="userSpaceOnUse" x1="426.23" y1="352.94" x2="426.78" y2="356.71"><stop offset="0" stop-color="#008e00"/><stop offset="0.03" stop-color="#00a400"/><stop offset="0.1" stop-color="#01b601"/><stop offset="0.3" stop-color="#23d023"/><stop offset="0.42" stop-color="#15b615"/><stop offset="0.6" stop-color="#018a01"/><stop offset="0.85" stop-color="#005a00"/><stop offset="1" stop-color="#005800"/></linearGradient>
<linearGradient id="g82" gradientUnits="userSpaceOnUse" x1="448.95" y1="356.43" x2="447.33" y2="359.86"><stop offset="0" stop-color="#006c00"/><stop offset="0.05" stop-color="#008900"/><stop offset="0.3" stop-color="#05a105"/><stop offset="0.5" stop-color="#08a008"/><stop offset="0.9" stop-color="#006c00"/><stop offset="1" stop-color="#005800"/></linearGradient>
<linearGradient id="g83" gradientUnits="userSpaceOnUse" x1="467.45" y1="356.81" x2="469.07" y2="360.25"><stop offset="0" stop-color="#009900"/><stop offset="0.03" stop-color="#00b000"/><stop offset="0.12" stop-color="#0ccc0c"/><stop offset="0.25" stop-color="#3dd03d"/><stop offset="0.33" stop-color="#3bd03b"/><stop offset="0.4" stop-color="#23ca23"/><stop offset="0.53" stop-color="#059805"/><stop offset="0.82" stop-color="#005a00"/><stop offset="1" stop-color="#005800"/></linearGradient>
<linearGradient id="g84" gradientUnits="userSpaceOnUse" x1="490.38" y1="353.99" x2="489.79" y2="357.75"><stop offset="0" stop-color="#007e00"/><stop offset="0.03" stop-color="#009300"/><stop offset="0.1" stop-color="#00a500"/><stop offset="0.38" stop-color="#11b311"/><stop offset="0.72" stop-color="#007c00"/><stop offset="0.93" stop-color="#005a00"/><stop offset="1" stop-color="#005800"/></linearGradient>
<linearGradient id="g85" gradientUnits="userSpaceOnUse" x1="508.95" y1="366.67" x2="505.57" y2="368.41"><stop offset="0" stop-color="#005800"/><stop offset="0.1" stop-color="#006500"/><stop offset="0.53" stop-color="#0aa30a"/><stop offset="0.7" stop-color="#07a707"/><stop offset="0.95" stop-color="#009000"/><stop offset="0.97" stop-color="#008700"/><stop offset="1" stop-color="#007300"/></linearGradient>
<linearGradient id="g86" gradientUnits="userSpaceOnUse" x1="512.94" y1="387.98" x2="509.17" y2="387.53"><stop offset="0" stop-color="#005800"/><stop offset="0.2" stop-color="#005f00"/><stop offset="0.5" stop-color="#08a008"/><stop offset="0.65" stop-color="#29d029"/><stop offset="0.72" stop-color="#2cd02c"/><stop offset="0.82" stop-color="#12cb12"/><stop offset="0.95" stop-color="#00b400"/><stop offset="0.97" stop-color="#00aa00"/><stop offset="1" stop-color="#009200"/></linearGradient>
<linearGradient id="g87" gradientUnits="userSpaceOnUse" x1="504.59" y1="406.78" x2="501.77" y2="404.22"><stop offset="0" stop-color="#005800"/><stop offset="0.23" stop-color="#005d00"/><stop offset="0.5" stop-color="#08a008"/><stop offset="0.6" stop-color="#29d029"/><stop offset="0.7" stop-color="#57d057"/><stop offset="0.75" stop-color="#5ad05a"/><stop offset="0.82" stop-color="#37d037"/><stop offset="0.9" stop-color="#0cd00c"/><stop offset="0.97" stop-color="#00b700"/><stop offset="1" stop-color="#009e00"/></linearGradient>
<linearGradient id="g88" gradientUnits="userSpaceOnUse" x1="487.23" y1="417.12" x2="486.3" y2="413.43"><stop offset="0" stop-color="#005800"/><stop offset="0.2" stop-color="#005f00"/><stop offset="0.5" stop-color="#08a008"/><stop offset="0.65" stop-color="#28d028"/><stop offset="0.72" stop-color="#2bd02b"/><stop offset="0.82" stop-color="#12ca12"/><stop offset="0.95" stop-color="#00b300"/><stop offset="0.97" stop-color="#00a900"/><stop offset="1" stop-color="#009200"/></linearGradient>
<linearGradient id="g89" gradientUnits="userSpaceOnUse" x1="466.87" y1="414.38" x2="468.7" y2="411.04"><stop offset="0" stop-color="#005800"/><stop offset="0.23" stop-color="#008300"/><stop offset="0.57" stop-color="#09a309"/><stop offset="0.93" stop-color="#008b00"/><stop offset="0.97" stop-color="#007b00"/><stop offset="1" stop-color="#006900"/></linearGradient>
<linearGradient id="g90" gradientUnits="userSpaceOnUse" x1="448.79" y1="413.26" x2="447.49" y2="409.69"><stop offset="0" stop-color="#005800"/><stop offset="0.2" stop-color="#005d00"/><stop offset="0.5" stop-color="#08a008"/><stop offset="0.62" stop-color="#28d028"/><stop offset="0.72" stop-color="#36d036"/><stop offset="0.85" stop-color="#10cc10"/><stop offset="0.95" stop-color="#00b800"/><stop offset="0.97" stop-color="#00ad00"/><stop offset="1" stop-color="#009600"/></linearGradient>
<linearGradient id="g91" gradientUnits="userSpaceOnUse" x1="427.22" y1="414.25" x2="428.26" y2="410.6"><stop offset="0" stop-color="#005800"/><stop offset="0.1" stop-color="#006100"/><stop offset="0.5" stop-color="#08a008"/><stop offset="0.68" stop-color="#0bac0b"/><stop offset="0.95" stop-color="#009400"/><stop offset="0.97" stop-color="#008b00"/><stop offset="1" stop-color="#007700"/></linearGradient>
<linearGradient id="g92" gradientUnits="userSpaceOnUse" x1="409.63" y1="402.21" x2="412.63" y2="399.87"><stop offset="0" stop-color="#006700"/><stop offset="0.05" stop-color="#008200"/><stop offset="0.28" stop-color="#029b02"/><stop offset="0.5" stop-color="#08a008"/><stop offset="0.9" stop-color="#007100"/><stop offset="1" stop-color="#005800"/></linearGradient>
<linearGradient id="g93" gradientUnits="userSpaceOnUse" x1="402.59" y1="382.53" x2="406.39" y2="382.53"><stop offset="0" stop-color="#008d00"/><stop offset="0.03" stop-color="#00a400"/><stop offset="0.1" stop-color="#01b601"/><stop offset="0.3" stop-color="#22cf22"/><stop offset="0.42" stop-color="#15b615"/><stop offset="0.6" stop-color="#018a01"/><stop offset="0.85" stop-color="#005a00"/><stop offset="1" stop-color="#005800"/></linearGradient>
<linearGradient id="g94" gradientUnits="userSpaceOnUse" x1="408.32" y1="363.45" x2="411.48" y2="365.56"><stop offset="0" stop-color="#009e00"/><stop offset="0.03" stop-color="#00b600"/><stop offset="0.1" stop-color="#0bd00b"/><stop offset="0.23" stop-color="#50d050"/><stop offset="0.28" stop-color="#59d059"/><stop offset="0.35" stop-color="#41d041"/><stop offset="0.4" stop-color="#29d029"/><stop offset="0.5" stop-color="#08a008"/><stop offset="0.8" stop-color="#005a00"/><stop offset="1" stop-color="#005800"/></linearGradient>
<radialGradient id="g95" cx="0.5" cy="0.5" r="0.5" fx="0.34" fy="0.30"><stop offset="0" stop-color="#ffffff"/><stop offset="0.10" stop-color="#aaffaa"/><stop offset="0.30" stop-color="#19dc19"/><stop offset="0.65" stop-color="#009800"/><stop offset="0.9" stop-color="#005100"/><stop offset="1" stop-color="#002a00"/></radialGradient>
<radialGradient id="g96" cx="0.5" cy="0.5" r="0.5" fx="0.34" fy="0.30"><stop offset="0" stop-color="#ffffff"/><stop offset="0.10" stop-color="#fff2b6"/><stop offset="0.30" stop-color="#dc6125"/><stop offset="0.65" stop-color="#983809"/><stop offset="0.9" stop-color="#511e05"/><stop offset="1" stop-color="#2a0f02"/></radialGradient>
</defs>
<line x1="3.5" y1="33.5" x2="42.5" y2="33.5" stroke="#8a8a8a" stroke-width="1.1"/>
<line x1="3.5" y1="33" x2="3.5" y2="428" stroke="#8a8a8a" stroke-width="1.1"/>
<line x1="3.5" y1="427.5" x2="42.5" y2="427.5" stroke="#8a8a8a" stroke-width="1.1"/>
<line x1="3.5" y1="329" x2="42.5" y2="329" stroke="#8a8a8a" stroke-width="1.1"/>
<line x1="646" y1="33.5" x2="685" y2="33.5" stroke="#8a8a8a" stroke-width="1.1"/>
<line x1="684.5" y1="33" x2="684.5" y2="428" stroke="#8a8a8a" stroke-width="1.1"/>
<line x1="646" y1="427.5" x2="685" y2="427.5" stroke="#8a8a8a" stroke-width="1.1"/>
<line x1="646" y1="329" x2="685" y2="329" stroke="#8a8a8a" stroke-width="1.1"/>
<line x1="42.5" y1="33.5" x2="300.83" y2="33.5" stroke="#8a8a8a" stroke-width="1.1"/>
<line x1="42.5" y1="33" x2="42.5" y2="428" stroke="#8a8a8a" stroke-width="1.1"/>
<line x1="300.83" y1="33" x2="300.83" y2="428" stroke="#a8a8a8" stroke-width="1.5"/>
<line x1="42.5" y1="427.5" x2="42.5" y2="432.8" stroke="#8a8a8a" stroke-width="1"/>
<text x="42.5" y="26.9" font-size="10" text-anchor="middle" font-weight="normal" fill="#222" textLength="18.6" lengthAdjust="spacingAndGlyphs">300</text>
<text x="42.5" y="446.8" font-size="10" text-anchor="middle" font-weight="normal" fill="#222" textLength="18.6" lengthAdjust="spacingAndGlyphs">300</text>
<line x1="79.41" y1="33.5" x2="79.41" y2="38.5" stroke="#8a8a8a" stroke-width="1"/>
<line x1="79.41" y1="132" x2="79.41" y2="137" stroke="#8a8a8a" stroke-width="1"/>
<line x1="79.41" y1="230.5" x2="79.41" y2="235.5" stroke="#8a8a8a" stroke-width="1"/>
<line x1="79.41" y1="329" x2="79.41" y2="334" stroke="#8a8a8a" stroke-width="1"/>
<line x1="79.41" y1="427.5" x2="79.41" y2="432.8" stroke="#8a8a8a" stroke-width="1"/>
<text x="79.41" y="26.9" font-size="10" text-anchor="middle" font-weight="normal" fill="#222" textLength="18.6" lengthAdjust="spacingAndGlyphs">350</text>
<text x="79.41" y="446.8" font-size="10" text-anchor="middle" font-weight="normal" fill="#222" textLength="18.6" lengthAdjust="spacingAndGlyphs">350</text>
<line x1="116.31" y1="33.5" x2="116.31" y2="38.5" stroke="#8a8a8a" stroke-width="1"/>
<line x1="116.31" y1="132" x2="116.31" y2="137" stroke="#8a8a8a" stroke-width="1"/>
<line x1="116.31" y1="230.5" x2="116.31" y2="235.5" stroke="#8a8a8a" stroke-width="1"/>
<line x1="116.31" y1="329" x2="116.31" y2="334" stroke="#8a8a8a" stroke-width="1"/>
<line x1="116.31" y1="427.5" x2="116.31" y2="432.8" stroke="#8a8a8a" stroke-width="1"/>
<text x="116.31" y="26.9" font-size="10" text-anchor="middle" font-weight="normal" fill="#222" textLength="18.6" lengthAdjust="spacingAndGlyphs">400</text>
<text x="116.31" y="446.8" font-size="10" text-anchor="middle" font-weight="normal" fill="#222" textLength="18.6" lengthAdjust="spacingAndGlyphs">400</text>
<line x1="153.22" y1="33.5" x2="153.22" y2="38.5" stroke="#8a8a8a" stroke-width="1"/>
<line x1="153.22" y1="132" x2="153.22" y2="137" stroke="#8a8a8a" stroke-width="1"/>
<line x1="153.22" y1="230.5" x2="153.22" y2="235.5" stroke="#8a8a8a" stroke-width="1"/>
<line x1="153.22" y1="329" x2="153.22" y2="334" stroke="#8a8a8a" stroke-width="1"/>
<line x1="153.22" y1="427.5" x2="153.22" y2="432.8" stroke="#8a8a8a" stroke-width="1"/>
<text x="153.22" y="26.9" font-size="10" text-anchor="middle" font-weight="normal" fill="#222" textLength="18.6" lengthAdjust="spacingAndGlyphs">450</text>
<text x="153.22" y="446.8" font-size="10" text-anchor="middle" font-weight="normal" fill="#222" textLength="18.6" lengthAdjust="spacingAndGlyphs">450</text>
<line x1="190.12" y1="33.5" x2="190.12" y2="38.5" stroke="#8a8a8a" stroke-width="1"/>
<line x1="190.12" y1="132" x2="190.12" y2="137" stroke="#8a8a8a" stroke-width="1"/>
<line x1="190.12" y1="230.5" x2="190.12" y2="235.5" stroke="#8a8a8a" stroke-width="1"/>
<line x1="190.12" y1="329" x2="190.12" y2="334" stroke="#8a8a8a" stroke-width="1"/>
<line x1="190.12" y1="427.5" x2="190.12" y2="432.8" stroke="#8a8a8a" stroke-width="1"/>
<text x="190.12" y="26.9" font-size="10" text-anchor="middle" font-weight="normal" fill="#222" textLength="18.6" lengthAdjust="spacingAndGlyphs">500</text>
<text x="190.12" y="446.8" font-size="10" text-anchor="middle" font-weight="normal" fill="#222" textLength="18.6" lengthAdjust="spacingAndGlyphs">500</text>
<line x1="227.03" y1="33.5" x2="227.03" y2="38.5" stroke="#8a8a8a" stroke-width="1"/>
<line x1="227.03" y1="132" x2="227.03" y2="137" stroke="#8a8a8a" stroke-width="1"/>
<line x1="227.03" y1="230.5" x2="227.03" y2="235.5" stroke="#8a8a8a" stroke-width="1"/>
<line x1="227.03" y1="329" x2="227.03" y2="334" stroke="#8a8a8a" stroke-width="1"/>
<line x1="227.03" y1="427.5" x2="227.03" y2="432.8" stroke="#8a8a8a" stroke-width="1"/>
<text x="227.03" y="26.9" font-size="10" text-anchor="middle" font-weight="normal" fill="#222" textLength="18.6" lengthAdjust="spacingAndGlyphs">550</text>
<text x="227.03" y="446.8" font-size="10" text-anchor="middle" font-weight="normal" fill="#222" textLength="18.6" lengthAdjust="spacingAndGlyphs">550</text>
<line x1="263.93" y1="33.5" x2="263.93" y2="38.5" stroke="#8a8a8a" stroke-width="1"/>
<line x1="263.93" y1="132" x2="263.93" y2="137" stroke="#8a8a8a" stroke-width="1"/>
<line x1="263.93" y1="230.5" x2="263.93" y2="235.5" stroke="#8a8a8a" stroke-width="1"/>
<line x1="263.93" y1="329" x2="263.93" y2="334" stroke="#8a8a8a" stroke-width="1"/>
<line x1="263.93" y1="427.5" x2="263.93" y2="432.8" stroke="#8a8a8a" stroke-width="1"/>
<text x="263.93" y="26.9" font-size="10" text-anchor="middle" font-weight="normal" fill="#222" textLength="18.6" lengthAdjust="spacingAndGlyphs">600</text>
<text x="263.93" y="446.8" font-size="10" text-anchor="middle" font-weight="normal" fill="#222" textLength="18.6" lengthAdjust="spacingAndGlyphs">600</text>
<line x1="300.83" y1="427.5" x2="300.83" y2="432.8" stroke="#8a8a8a" stroke-width="1"/>
<text x="300.83" y="26.9" font-size="10" text-anchor="middle" font-weight="normal" fill="#222" textLength="18.6" lengthAdjust="spacingAndGlyphs">650</text>
<text x="300.83" y="446.8" font-size="10" text-anchor="middle" font-weight="normal" fill="#222" textLength="18.6" lengthAdjust="spacingAndGlyphs">650</text>
<line x1="295.33" y1="47" x2="300.83" y2="47" stroke="#8a8a8a" stroke-width="1"/>
<line x1="42.5" y1="47" x2="47.5" y2="47" stroke="#8a8a8a" stroke-width="1"/>
<text x="306.83" y="50.6" font-size="10" text-anchor="start" font-weight="normal" fill="#222" textLength="14.3" lengthAdjust="spacingAndGlyphs">1.0</text>
<line x1="295.33" y1="89.5" x2="300.83" y2="89.5" stroke="#8a8a8a" stroke-width="1"/>
<line x1="42.5" y1="89.5" x2="47.5" y2="89.5" stroke="#8a8a8a" stroke-width="1"/>
<text x="306.83" y="93.1" font-size="10" text-anchor="start" font-weight="normal" fill="#222" textLength="14.3" lengthAdjust="spacingAndGlyphs">0.5</text>
<text x="306.83" y="135.6" font-size="10" text-anchor="start" font-weight="normal" fill="#222">0</text>
<line x1="295.33" y1="145.5" x2="300.83" y2="145.5" stroke="#8a8a8a" stroke-width="1"/>
<line x1="42.5" y1="145.5" x2="47.5" y2="145.5" stroke="#8a8a8a" stroke-width="1"/>
<text x="306.83" y="149.1" font-size="10" text-anchor="start" font-weight="normal" fill="#222" textLength="14.3" lengthAdjust="spacingAndGlyphs">1.0</text>
<line x1="295.33" y1="188" x2="300.83" y2="188" stroke="#8a8a8a" stroke-width="1"/>
<line x1="42.5" y1="188" x2="47.5" y2="188" stroke="#8a8a8a" stroke-width="1"/>
<text x="306.83" y="191.6" font-size="10" text-anchor="start" font-weight="normal" fill="#222" textLength="14.3" lengthAdjust="spacingAndGlyphs">0.5</text>
<text x="306.83" y="234.1" font-size="10" text-anchor="start" font-weight="normal" fill="#222">0</text>
<line x1="295.33" y1="244" x2="300.83" y2="244" stroke="#8a8a8a" stroke-width="1"/>
<line x1="42.5" y1="244" x2="47.5" y2="244" stroke="#8a8a8a" stroke-width="1"/>
<text x="306.83" y="247.6" font-size="10" text-anchor="start" font-weight="normal" fill="#222" textLength="14.3" lengthAdjust="spacingAndGlyphs">1.0</text>
<line x1="295.33" y1="286.5" x2="300.83" y2="286.5" stroke="#8a8a8a" stroke-width="1"/>
<line x1="42.5" y1="286.5" x2="47.5" y2="286.5" stroke="#8a8a8a" stroke-width="1"/>
<text x="306.83" y="290.1" font-size="10" text-anchor="start" font-weight="normal" fill="#222" textLength="14.3" lengthAdjust="spacingAndGlyphs">0.5</text>
<text x="306.83" y="332.6" font-size="10" text-anchor="start" font-weight="normal" fill="#222">0</text>
<line x1="295.33" y1="342.5" x2="300.83" y2="342.5" stroke="#8a8a8a" stroke-width="1"/>
<line x1="42.5" y1="342.5" x2="47.5" y2="342.5" stroke="#8a8a8a" stroke-width="1"/>
<text x="306.83" y="346.1" font-size="10" text-anchor="start" font-weight="normal" fill="#222" textLength="14.3" lengthAdjust="spacingAndGlyphs">1.0</text>
<line x1="295.33" y1="385" x2="300.83" y2="385" stroke="#8a8a8a" stroke-width="1"/>
<line x1="42.5" y1="385" x2="47.5" y2="385" stroke="#8a8a8a" stroke-width="1"/>
<text x="306.83" y="388.6" font-size="10" text-anchor="start" font-weight="normal" fill="#222" textLength="14.3" lengthAdjust="spacingAndGlyphs">0.5</text>
<text x="306.83" y="431.1" font-size="10" text-anchor="start" font-weight="normal" fill="#222">0</text>
<line x1="387.5" y1="33.5" x2="646" y2="33.5" stroke="#8a8a8a" stroke-width="1.1"/>
<line x1="387.5" y1="33" x2="387.5" y2="428" stroke="#8a8a8a" stroke-width="1.1"/>
<line x1="646" y1="33" x2="646" y2="428" stroke="#a8a8a8" stroke-width="2"/>
<line x1="387.5" y1="427.5" x2="387.5" y2="432.8" stroke="#8a8a8a" stroke-width="1"/>
<text x="387.5" y="26.9" font-size="10" text-anchor="middle" font-weight="normal" fill="#222" textLength="18.6" lengthAdjust="spacingAndGlyphs">300</text>
<text x="387.5" y="446.8" font-size="10" text-anchor="middle" font-weight="normal" fill="#222" textLength="18.6" lengthAdjust="spacingAndGlyphs">300</text>
<line x1="419.81" y1="33.5" x2="419.81" y2="38.5" stroke="#8a8a8a" stroke-width="1"/>
<line x1="419.81" y1="132" x2="419.81" y2="137" stroke="#8a8a8a" stroke-width="1"/>
<line x1="419.81" y1="230.5" x2="419.81" y2="235.5" stroke="#8a8a8a" stroke-width="1"/>
<line x1="419.81" y1="329" x2="419.81" y2="334" stroke="#8a8a8a" stroke-width="1"/>
<line x1="419.81" y1="427.5" x2="419.81" y2="432.8" stroke="#8a8a8a" stroke-width="1"/>
<text x="419.81" y="26.9" font-size="10" text-anchor="middle" font-weight="normal" fill="#222" textLength="18.6" lengthAdjust="spacingAndGlyphs">350</text>
<text x="419.81" y="446.8" font-size="10" text-anchor="middle" font-weight="normal" fill="#222" textLength="18.6" lengthAdjust="spacingAndGlyphs">350</text>
<line x1="452.12" y1="33.5" x2="452.12" y2="38.5" stroke="#8a8a8a" stroke-width="1"/>
<line x1="452.12" y1="132" x2="452.12" y2="137" stroke="#8a8a8a" stroke-width="1"/>
<line x1="452.12" y1="230.5" x2="452.12" y2="235.5" stroke="#8a8a8a" stroke-width="1"/>
<line x1="452.12" y1="329" x2="452.12" y2="334" stroke="#8a8a8a" stroke-width="1"/>
<line x1="452.12" y1="427.5" x2="452.12" y2="432.8" stroke="#8a8a8a" stroke-width="1"/>
<text x="452.12" y="26.9" font-size="10" text-anchor="middle" font-weight="normal" fill="#222" textLength="18.6" lengthAdjust="spacingAndGlyphs">400</text>
<text x="452.12" y="446.8" font-size="10" text-anchor="middle" font-weight="normal" fill="#222" textLength="18.6" lengthAdjust="spacingAndGlyphs">400</text>
<line x1="484.44" y1="33.5" x2="484.44" y2="38.5" stroke="#8a8a8a" stroke-width="1"/>
<line x1="484.44" y1="132" x2="484.44" y2="137" stroke="#8a8a8a" stroke-width="1"/>
<line x1="484.44" y1="230.5" x2="484.44" y2="235.5" stroke="#8a8a8a" stroke-width="1"/>
<line x1="484.44" y1="329" x2="484.44" y2="334" stroke="#8a8a8a" stroke-width="1"/>
<line x1="484.44" y1="427.5" x2="484.44" y2="432.8" stroke="#8a8a8a" stroke-width="1"/>
<text x="484.44" y="26.9" font-size="10" text-anchor="middle" font-weight="normal" fill="#222" textLength="18.6" lengthAdjust="spacingAndGlyphs">450</text>
<text x="484.44" y="446.8" font-size="10" text-anchor="middle" font-weight="normal" fill="#222" textLength="18.6" lengthAdjust="spacingAndGlyphs">450</text>
<line x1="516.75" y1="33.5" x2="516.75" y2="38.5" stroke="#8a8a8a" stroke-width="1"/>
<line x1="516.75" y1="132" x2="516.75" y2="137" stroke="#8a8a8a" stroke-width="1"/>
<line x1="516.75" y1="230.5" x2="516.75" y2="235.5" stroke="#8a8a8a" stroke-width="1"/>
<line x1="516.75" y1="329" x2="516.75" y2="334" stroke="#8a8a8a" stroke-width="1"/>
<line x1="516.75" y1="427.5" x2="516.75" y2="432.8" stroke="#8a8a8a" stroke-width="1"/>
<text x="516.75" y="26.9" font-size="10" text-anchor="middle" font-weight="normal" fill="#222" textLength="18.6" lengthAdjust="spacingAndGlyphs">500</text>
<text x="516.75" y="446.8" font-size="10" text-anchor="middle" font-weight="normal" fill="#222" textLength="18.6" lengthAdjust="spacingAndGlyphs">500</text>
<line x1="549.06" y1="33.5" x2="549.06" y2="38.5" stroke="#8a8a8a" stroke-width="1"/>
<line x1="549.06" y1="132" x2="549.06" y2="137" stroke="#8a8a8a" stroke-width="1"/>
<line x1="549.06" y1="230.5" x2="549.06" y2="235.5" stroke="#8a8a8a" stroke-width="1"/>
<line x1="549.06" y1="329" x2="549.06" y2="334" stroke="#8a8a8a" stroke-width="1"/>
<line x1="549.06" y1="427.5" x2="549.06" y2="432.8" stroke="#8a8a8a" stroke-width="1"/>
<text x="549.06" y="26.9" font-size="10" text-anchor="middle" font-weight="normal" fill="#222" textLength="18.6" lengthAdjust="spacingAndGlyphs">550</text>
<text x="549.06" y="446.8" font-size="10" text-anchor="middle" font-weight="normal" fill="#222" textLength="18.6" lengthAdjust="spacingAndGlyphs">550</text>
<line x1="581.38" y1="33.5" x2="581.38" y2="38.5" stroke="#8a8a8a" stroke-width="1"/>
<line x1="581.38" y1="132" x2="581.38" y2="137" stroke="#8a8a8a" stroke-width="1"/>
<line x1="581.38" y1="230.5" x2="581.38" y2="235.5" stroke="#8a8a8a" stroke-width="1"/>
<line x1="581.38" y1="329" x2="581.38" y2="334" stroke="#8a8a8a" stroke-width="1"/>
<line x1="581.38" y1="427.5" x2="581.38" y2="432.8" stroke="#8a8a8a" stroke-width="1"/>
<text x="581.38" y="26.9" font-size="10" text-anchor="middle" font-weight="normal" fill="#222" textLength="18.6" lengthAdjust="spacingAndGlyphs">600</text>
<text x="581.38" y="446.8" font-size="10" text-anchor="middle" font-weight="normal" fill="#222" textLength="18.6" lengthAdjust="spacingAndGlyphs">600</text>
<line x1="613.69" y1="33.5" x2="613.69" y2="38.5" stroke="#8a8a8a" stroke-width="1"/>
<line x1="613.69" y1="132" x2="613.69" y2="137" stroke="#8a8a8a" stroke-width="1"/>
<line x1="613.69" y1="230.5" x2="613.69" y2="235.5" stroke="#8a8a8a" stroke-width="1"/>
<line x1="613.69" y1="329" x2="613.69" y2="334" stroke="#8a8a8a" stroke-width="1"/>
<line x1="613.69" y1="427.5" x2="613.69" y2="432.8" stroke="#8a8a8a" stroke-width="1"/>
<text x="613.69" y="26.9" font-size="10" text-anchor="middle" font-weight="normal" fill="#222" textLength="18.6" lengthAdjust="spacingAndGlyphs">650</text>
<text x="613.69" y="446.8" font-size="10" text-anchor="middle" font-weight="normal" fill="#222" textLength="18.6" lengthAdjust="spacingAndGlyphs">650</text>
<line x1="646" y1="427.5" x2="646" y2="432.8" stroke="#8a8a8a" stroke-width="1"/>
<text x="646" y="26.9" font-size="10" text-anchor="middle" font-weight="normal" fill="#222" textLength="18.6" lengthAdjust="spacingAndGlyphs">700</text>
<text x="646" y="446.8" font-size="10" text-anchor="middle" font-weight="normal" fill="#222" textLength="18.6" lengthAdjust="spacingAndGlyphs">700</text>
<line x1="387.5" y1="47" x2="392.5" y2="47" stroke="#8a8a8a" stroke-width="1"/>
<text x="381.5" y="50.6" font-size="10" text-anchor="end" font-weight="normal" fill="#222" textLength="14.3" lengthAdjust="spacingAndGlyphs">1.0</text>
<line x1="387.5" y1="89.5" x2="392.5" y2="89.5" stroke="#8a8a8a" stroke-width="1"/>
<text x="381.5" y="93.1" font-size="10" text-anchor="end" font-weight="normal" fill="#222" textLength="14.3" lengthAdjust="spacingAndGlyphs">0.5</text>
<text x="381.5" y="135.6" font-size="10" text-anchor="end" font-weight="normal" fill="#222">0</text>
<line x1="387.5" y1="145.5" x2="392.5" y2="145.5" stroke="#8a8a8a" stroke-width="1"/>
<text x="381.5" y="149.1" font-size="10" text-anchor="end" font-weight="normal" fill="#222" textLength="14.3" lengthAdjust="spacingAndGlyphs">1.0</text>
<line x1="387.5" y1="188" x2="392.5" y2="188" stroke="#8a8a8a" stroke-width="1"/>
<text x="381.5" y="191.6" font-size="10" text-anchor="end" font-weight="normal" fill="#222" textLength="14.3" lengthAdjust="spacingAndGlyphs">0.5</text>
<text x="381.5" y="234.1" font-size="10" text-anchor="end" font-weight="normal" fill="#222">0</text>
<line x1="387.5" y1="244" x2="392.5" y2="244" stroke="#8a8a8a" stroke-width="1"/>
<text x="381.5" y="247.6" font-size="10" text-anchor="end" font-weight="normal" fill="#222" textLength="14.3" lengthAdjust="spacingAndGlyphs">1.0</text>
<line x1="387.5" y1="286.5" x2="392.5" y2="286.5" stroke="#8a8a8a" stroke-width="1"/>
<text x="381.5" y="290.1" font-size="10" text-anchor="end" font-weight="normal" fill="#222" textLength="14.3" lengthAdjust="spacingAndGlyphs">0.5</text>
<text x="381.5" y="332.6" font-size="10" text-anchor="end" font-weight="normal" fill="#222">0</text>
<line x1="387.5" y1="342.5" x2="392.5" y2="342.5" stroke="#8a8a8a" stroke-width="1"/>
<text x="381.5" y="346.1" font-size="10" text-anchor="end" font-weight="normal" fill="#222" textLength="14.3" lengthAdjust="spacingAndGlyphs">1.0</text>
<line x1="387.5" y1="385" x2="392.5" y2="385" stroke="#8a8a8a" stroke-width="1"/>
<text x="381.5" y="388.6" font-size="10" text-anchor="end" font-weight="normal" fill="#222" textLength="14.3" lengthAdjust="spacingAndGlyphs">0.5</text>
<text x="381.5" y="431.1" font-size="10" text-anchor="end" font-weight="normal" fill="#222">0</text>
<line x1="42.5" y1="427.5" x2="300.83" y2="427.5" stroke="#8a8a8a" stroke-width="1.1"/>
<line x1="387.5" y1="427.5" x2="646" y2="427.5" stroke="#8a8a8a" stroke-width="1.1"/>
<g clip-path="url(#c1)">
<path d="M159.82 55.4 L128.98 69.74 L124.86 96.63 L141.53 121.19 L177.39 122.45 L194.24 98.78 L189.76 67.95 Z M158.92 79.6 L148.7 85.34 L147.81 92.87 L153.19 99.14 L164.66 100.04 L170.93 92.51 L169.14 84.98 Z" fill="#007800" fill-rule="evenodd"/>
<polygon points="159.82,55.4 128.98,69.74 148.7,85.34 158.92,79.6" fill="url(#g2)" stroke="url(#g2)" stroke-width="0.4"/>
<polygon points="128.98,69.74 124.86,96.63 147.81,92.87 148.7,85.34" fill="url(#g3)" stroke="url(#g3)" stroke-width="0.4"/>
<polygon points="124.86,96.63 141.53,121.19 153.19,99.14 147.81,92.87" fill="url(#g4)" stroke="url(#g4)" stroke-width="0.4"/>
<polygon points="141.53,121.19 177.39,122.45 164.66,100.04 153.19,99.14" fill="url(#g5)" stroke="url(#g5)" stroke-width="0.4"/>
<polygon points="177.39,122.45 194.24,98.78 170.93,92.51 164.66,100.04" fill="url(#g6)" stroke="url(#g6)" stroke-width="0.4"/>
<polygon points="194.24,98.78 189.76,67.95 169.14,84.98 170.93,92.51" fill="url(#g7)" stroke="url(#g7)" stroke-width="0.4"/>
<polygon points="189.76,67.95 159.82,55.4 158.92,79.6 169.14,84.98" fill="url(#g8)" stroke="url(#g8)" stroke-width="0.4"/>
<line x1="159.62" y1="60.72" x2="159.26" y2="70.4" stroke="#eaffea" stroke-width="0.5" stroke-opacity="0.55"/>
<polygon points="133.09,72.99 134.73,75.43 135.85,74.02" fill="#fff" fill-opacity="0.7"/>
<polygon points="129.54,95.86 132.45,96.3 132.16,94.52" fill="#fff" fill-opacity="0.7"/>
<polygon points="194.24,98.78 184.45,96.15 191.34,102.86" fill="#001800" fill-opacity="0.55"/>
</g>
<g clip-path="url(#c9)">
<path d="M501.59 55.76 L471.83 69.74 L467.71 96.99 L484.74 121.55 L520.42 122.45 L536.55 98.78 L532.07 67.95 Z M501.23 79.6 L491.01 85.34 L490.48 92.87 L495.5 99.14 L507.33 100.04 L513.6 92.51 L511.81 84.98 Z" fill="#007800" fill-rule="evenodd"/>
<polygon points="501.59,55.76 471.83,69.74 491.01,85.34 501.23,79.6" fill="url(#g10)" stroke="url(#g10)" stroke-width="0.4"/>
<polygon points="471.83,69.74 467.71,96.99 490.48,92.87 491.01,85.34" fill="url(#g11)" stroke="url(#g11)" stroke-width="0.4"/>
<polygon points="467.71,96.99 484.74,121.55 495.5,99.14 490.48,92.87" fill="url(#g12)" stroke="url(#g12)" stroke-width="0.4"/>
<polygon points="484.74,121.55 520.42,122.45 507.33,100.04 495.5,99.14" fill="url(#g13)" stroke="url(#g13)" stroke-width="0.4"/>
<polygon points="520.42,122.45 536.55,98.78 513.6,92.51 507.33,100.04" fill="url(#g14)" stroke="url(#g14)" stroke-width="0.4"/>
<polygon points="536.55,98.78 532.07,67.95 511.81,84.98 513.6,92.51" fill="url(#g15)" stroke="url(#g15)" stroke-width="0.4"/>
<polygon points="532.07,67.95 501.59,55.76 501.23,79.6 511.81,84.98" fill="url(#g16)" stroke="url(#g16)" stroke-width="0.4"/>
<line x1="501.51" y1="61" x2="501.37" y2="70.54" stroke="#eaffea" stroke-width="0.5" stroke-opacity="0.55"/>
<polygon points="475.81,72.98 477.42,75.44 478.55,74.04" fill="#fff" fill-opacity="0.7"/>
<polygon points="472.35,96.15 475.26,96.54 474.94,94.76" fill="#fff" fill-opacity="0.7"/>
<polygon points="536.55,98.78 526.91,96.15 533.73,102.91" fill="#001800" fill-opacity="0.55"/>
</g>
<g clip-path="url(#c17)">
<path d="M106.03 153.19 L83.54 156.3 L66.42 175.68 L65.38 199.89 L83.2 221 L106.89 224.11 L130.59 221.86 L147.89 199.89 L147.89 177.41 L129.73 157.17 Z M106.89 175.68 L94.79 177.41 L87.87 185.19 L87.87 192.97 L94.79 200.76 L106.89 202.49 L119.87 200.76 L125.06 193.84 L125.92 185.19 L119.87 177.41 Z" fill="#007800" fill-rule="evenodd"/>
<polygon points="106.03,153.19 83.54,156.3 94.79,177.41 106.89,175.68" fill="url(#g18)" stroke="url(#g18)" stroke-width="0.4"/>
<polygon points="83.54,156.3 66.42,175.68 87.87,185.19 94.79,177.41" fill="url(#g19)" stroke="url(#g19)" stroke-width="0.4"/>
<polygon points="66.42,175.68 65.38,199.89 87.87,192.97 87.87,185.19" fill="url(#g20)" stroke="url(#g20)" stroke-width="0.4"/>
<polygon points="65.38,199.89 83.2,221 94.79,200.76 87.87,192.97" fill="url(#g21)" stroke="url(#g21)" stroke-width="0.4"/>
<polygon points="83.2,221 106.89,224.11 106.89,202.49 94.79,200.76" fill="url(#g22)" stroke="url(#g22)" stroke-width="0.4"/>
<polygon points="106.89,224.11 130.59,221.86 119.87,200.76 106.89,202.49" fill="url(#g23)" stroke="url(#g23)" stroke-width="0.4"/>
<polygon points="130.59,221.86 147.89,199.89 125.06,193.84 119.87,200.76" fill="url(#g24)" stroke="url(#g24)" stroke-width="0.4"/>
<polygon points="147.89,199.89 147.89,177.41 125.92,185.19 125.06,193.84" fill="url(#g25)" stroke="url(#g25)" stroke-width="0.4"/>
<polygon points="147.89,177.41 129.73,157.17 119.87,177.41 125.92,185.19" fill="url(#g26)" stroke="url(#g26)" stroke-width="0.4"/>
<polygon points="129.73,157.17 106.03,153.19 106.89,175.68 119.87,177.41" fill="url(#g27)" stroke="url(#g27)" stroke-width="0.4"/>
<line x1="106.22" y1="158.14" x2="106.57" y2="167.13" stroke="#eaffea" stroke-width="0.5" stroke-opacity="0.55"/>
<polygon points="85.85,160.64 86.38,163.54 87.96,162.69" fill="#fff" fill-opacity="0.7"/>
<polygon points="70.81,177.62 73,179.58 73.73,177.94" fill="#fff" fill-opacity="0.7"/>
<polygon points="69.98,198.48 72.92,198.51 72.39,196.79" fill="#fff" fill-opacity="0.7"/>
<line x1="106.89" y1="213.3" x2="106.89" y2="206.81" stroke="#eaffea" stroke-width="0.5" stroke-opacity="0.55"/>
<polygon points="130.59,221.86 126.09,213 125.61,222.33" fill="#001800" fill-opacity="0.55"/>
<polygon points="147.89,199.89 138.3,197.35 144.8,203.82" fill="#001800" fill-opacity="0.55"/>
<polygon points="147.89,177.41 138.66,180.68 147.89,182.41" fill="#001800" fill-opacity="0.55"/>
</g>
<g clip-path="url(#c28)">
<path d="M110.53 249.98 L88.91 250.5 L64.35 260.7 L57.44 288.37 L70.41 314.66 L90.64 324.17 L111.4 325.04 L136.82 320.71 L154.98 297.89 L152.39 271.94 L133.36 252.57 Z M110.53 273.67 L94.97 273.67 L84.59 278 L82 287.51 L85.45 297.02 L95.83 301.34 L110.53 301.34 L126.1 300.48 L133.02 292.7 L133.02 282.32 L124.37 274.54 Z" fill="#007800" fill-rule="evenodd"/>
<polygon points="110.53,249.98 88.91,250.5 94.97,273.67 110.53,273.67" fill="url(#g29)" stroke="url(#g29)" stroke-width="0.4"/>
<polygon points="88.91,250.5 64.35,260.7 84.59,278 94.97,273.67" fill="url(#g30)" stroke="url(#g30)" stroke-width="0.4"/>
<polygon points="64.35,260.7 57.44,288.37 82,287.51 84.59,278" fill="url(#g31)" stroke="url(#g31)" stroke-width="0.4"/>
<polygon points="57.44,288.37 70.41,314.66 85.45,297.02 82,287.51" fill="url(#g32)" stroke="url(#g32)" stroke-width="0.4"/>
<polygon points="70.41,314.66 90.64,324.17 95.83,301.34 85.45,297.02" fill="url(#g33)" stroke="url(#g33)" stroke-width="0.4"/>
<polygon points="90.64,324.17 111.4,325.04 110.53,301.34 95.83,301.34" fill="url(#g34)" stroke="url(#g34)" stroke-width="0.4"/>
<polygon points="111.4,325.04 136.82,320.71 126.1,300.48 110.53,301.34" fill="url(#g35)" stroke="url(#g35)" stroke-width="0.4"/>
<polygon points="136.82,320.71 154.98,297.89 133.02,292.7 126.1,300.48" fill="url(#g36)" stroke="url(#g36)" stroke-width="0.4"/>
<polygon points="154.98,297.89 152.39,271.94 133.02,282.32 133.02,292.7" fill="url(#g37)" stroke="url(#g37)" stroke-width="0.4"/>
<polygon points="152.39,271.94 133.36,252.57 124.37,274.54 133.02,282.32" fill="url(#g38)" stroke="url(#g38)" stroke-width="0.4"/>
<polygon points="133.36,252.57 110.53,249.98 110.53,273.67 124.37,274.54" fill="url(#g39)" stroke="url(#g39)" stroke-width="0.4"/>
<line x1="110.53" y1="255.19" x2="110.53" y2="264.67" stroke="#eaffea" stroke-width="0.5" stroke-opacity="0.55"/>
<line x1="90.25" y1="255.6" x2="92.67" y2="264.87" stroke="#eaffea" stroke-width="0.5" stroke-opacity="0.55"/>
<polygon points="90.16,255.26 90,258.2 91.74,257.75" fill="#fff" fill-opacity="0.7"/>
<polygon points="68.63,264.35 70.17,266.86 71.34,265.49" fill="#fff" fill-opacity="0.7"/>
<polygon points="62.52,288.19 65.35,288.99 65.29,287.2" fill="#fff" fill-opacity="0.7"/>
<line x1="93.24" y1="312.76" x2="94.79" y2="305.91" stroke="#eaffea" stroke-width="0.5" stroke-opacity="0.55"/>
<line x1="110.97" y1="313.19" x2="110.71" y2="306.08" stroke="#eaffea" stroke-width="0.5" stroke-opacity="0.55"/>
<polygon points="136.82,320.71 132.32,312.22 131.89,321.55" fill="#001800" fill-opacity="0.55"/>
<polygon points="154.98,297.89 145.76,295.71 151.87,301.8" fill="#001800" fill-opacity="0.55"/>
<polygon points="152.39,271.94 144.25,276.3 152.88,276.92" fill="#001800" fill-opacity="0.55"/>
</g>
<g clip-path="url(#c40)">
<path d="M462.06 152.5 L441.31 152.84 L416.76 161.83 L409.84 188.64 L421.08 212.33 L442.18 224.43 L460.33 226.16 L479.36 225.3 L503.91 215.78 L511.69 189.5 L506.5 166.68 L484.02 154.57 Z M461.2 174.8 L445.64 175.67 L436.13 179.99 L433.53 188.64 L436.99 198.15 L446.5 202.47 L460.33 202.99 L475.9 202.99 L486.27 199.01 L489.73 190.37 L488 181.72 L477.63 176.53 Z" fill="#007800" fill-rule="evenodd"/>
<polygon points="462.06,152.5 441.31,152.84 445.64,175.67 461.2,174.8" fill="url(#g41)" stroke="url(#g41)" stroke-width="0.4"/>
<polygon points="441.31,152.84 416.76,161.83 436.13,179.99 445.64,175.67" fill="url(#g42)" stroke="url(#g42)" stroke-width="0.4"/>
<polygon points="416.76,161.83 409.84,188.64 433.53,188.64 436.13,179.99" fill="url(#g43)" stroke="url(#g43)" stroke-width="0.4"/>
<polygon points="409.84,188.64 421.08,212.33 436.99,198.15 433.53,188.64" fill="url(#g44)" stroke="url(#g44)" stroke-width="0.4"/>
<polygon points="421.08,212.33 442.18,224.43 446.5,202.47 436.99,198.15" fill="url(#g45)" stroke="url(#g45)" stroke-width="0.4"/>
<polygon points="442.18,224.43 460.33,226.16 460.33,202.99 446.5,202.47" fill="url(#g46)" stroke="url(#g46)" stroke-width="0.4"/>
<polygon points="460.33,226.16 479.36,225.3 475.9,202.99 460.33,202.99" fill="url(#g47)" stroke="url(#g47)" stroke-width="0.4"/>
<polygon points="479.36,225.3 503.91,215.78 486.27,199.01 475.9,202.99" fill="url(#g48)" stroke="url(#g48)" stroke-width="0.4"/>
<polygon points="503.91,215.78 511.69,189.5 489.73,190.37 486.27,199.01" fill="url(#g49)" stroke="url(#g49)" stroke-width="0.4"/>
<polygon points="511.69,189.5 506.5,166.68 488,181.72 489.73,190.37" fill="url(#g50)" stroke="url(#g50)" stroke-width="0.4"/>
<polygon points="506.5,166.68 484.02,154.57 477.63,176.53 488,181.72" fill="url(#g51)" stroke="url(#g51)" stroke-width="0.4"/>
<polygon points="484.02,154.57 462.06,152.5 461.2,174.8 477.63,176.53" fill="url(#g52)" stroke="url(#g52)" stroke-width="0.4"/>
<line x1="461.87" y1="157.4" x2="461.53" y2="166.33" stroke="#eaffea" stroke-width="0.5" stroke-opacity="0.55"/>
<line x1="442.26" y1="157.86" x2="443.99" y2="166.99" stroke="#eaffea" stroke-width="0.5" stroke-opacity="0.55"/>
<polygon points="442.2,157.5 441.83,160.42 443.6,160.08" fill="#fff" fill-opacity="0.7"/>
<polygon points="420.85,165.67 422.27,168.24 423.5,166.92" fill="#fff" fill-opacity="0.7"/>
<polygon points="414.7,188.64 417.5,189.54 417.5,187.74" fill="#fff" fill-opacity="0.7"/>
<line x1="444.34" y1="213.45" x2="445.64" y2="206.86" stroke="#eaffea" stroke-width="0.5" stroke-opacity="0.55"/>
<line x1="460.33" y1="214.57" x2="460.33" y2="207.62" stroke="#eaffea" stroke-width="0.5" stroke-opacity="0.55"/>
<line x1="477.63" y1="214.14" x2="476.59" y2="207.45" stroke="#eaffea" stroke-width="0.5" stroke-opacity="0.55"/>
<polygon points="503.91,215.78 496.5,208.74 499.25,217.59" fill="#001800" fill-opacity="0.55"/>
<polygon points="511.69,189.5 502.47,189.86 510.27,194.3" fill="#001800" fill-opacity="0.55"/>
<polygon points="506.5,166.68 498.73,172.99 507.61,171.55" fill="#001800" fill-opacity="0.55"/>
<line x1="482.62" y1="159.4" x2="480.06" y2="168.19" stroke="#eaffea" stroke-width="0.5" stroke-opacity="0.55"/>
</g>
<g clip-path="url(#c53)">
<path d="M463.07 249.5 L442.92 250.03 L417.17 257.39 L405.78 280.16 L410.16 302.41 L429.43 321.68 L449.93 326.94 L467.45 327.29 L487.95 323.44 L509.85 312.05 L515.98 287.17 L508.97 263.17 L485.32 252.66 Z M463.07 272.63 L444.67 273.68 L434.16 276.66 L429.43 283.67 L430.13 293.3 L437.67 301.71 L450.81 304.69 L466.57 304.69 L480.59 301.71 L490.22 296.81 L493.73 288.05 L491.1 280.16 L481.46 274.91 Z" fill="#007800" fill-rule="evenodd"/>
<polygon points="463.07,249.5 442.92,250.03 444.67,273.68 463.07,272.63" fill="url(#g54)" stroke="url(#g54)" stroke-width="0.4"/>
<polygon points="442.92,250.03 417.17,257.39 434.16,276.66 444.67,273.68" fill="url(#g55)" stroke="url(#g55)" stroke-width="0.4"/>
<polygon points="417.17,257.39 405.78,280.16 429.43,283.67 434.16,276.66" fill="url(#g56)" stroke="url(#g56)" stroke-width="0.4"/>
<polygon points="405.78,280.16 410.16,302.41 430.13,293.3 429.43,283.67" fill="url(#g57)" stroke="url(#g57)" stroke-width="0.4"/>
<polygon points="410.16,302.41 429.43,321.68 437.67,301.71 430.13,293.3" fill="url(#g58)" stroke="url(#g58)" stroke-width="0.4"/>
<polygon points="429.43,321.68 449.93,326.94 450.81,304.69 437.67,301.71" fill="url(#g59)" stroke="url(#g59)" stroke-width="0.4"/>
<polygon points="449.93,326.94 467.45,327.29 466.57,304.69 450.81,304.69" fill="url(#g60)" stroke="url(#g60)" stroke-width="0.4"/>
<polygon points="467.45,327.29 487.95,323.44 480.59,301.71 466.57,304.69" fill="url(#g61)" stroke="url(#g61)" stroke-width="0.4"/>
<polygon points="487.95,323.44 509.85,312.05 490.22,296.81 480.59,301.71" fill="url(#g62)" stroke="url(#g62)" stroke-width="0.4"/>
<polygon points="509.85,312.05 515.98,287.17 493.73,288.05 490.22,296.81" fill="url(#g63)" stroke="url(#g63)" stroke-width="0.4"/>
<polygon points="515.98,287.17 508.97,263.17 491.1,280.16 493.73,288.05" fill="url(#g64)" stroke="url(#g64)" stroke-width="0.4"/>
<polygon points="508.97,263.17 485.32,252.66 481.46,274.91 491.1,280.16" fill="url(#g65)" stroke="url(#g65)" stroke-width="0.4"/>
<polygon points="485.32,252.66 463.07,249.5 463.07,272.63 481.46,274.91" fill="url(#g66)" stroke="url(#g66)" stroke-width="0.4"/>
<line x1="463.07" y1="254.59" x2="463.07" y2="263.84" stroke="#eaffea" stroke-width="0.5" stroke-opacity="0.55"/>
<line x1="443.31" y1="255.23" x2="444.01" y2="264.69" stroke="#eaffea" stroke-width="0.5" stroke-opacity="0.55"/>
<polygon points="443.28,254.88 442.59,257.74 444.39,257.61" fill="#fff" fill-opacity="0.7"/>
<polygon points="420.73,261.42 421.9,264.12 423.25,262.93" fill="#fff" fill-opacity="0.7"/>
<polygon points="410.64,280.88 413.28,282.18 413.55,280.4" fill="#fff" fill-opacity="0.7"/>
<polygon points="414.17,300.58 417.09,300.24 416.35,298.6" fill="#fff" fill-opacity="0.7"/>
<line x1="450.37" y1="315.81" x2="450.63" y2="309.14" stroke="#eaffea" stroke-width="0.5" stroke-opacity="0.55"/>
<line x1="467.01" y1="315.99" x2="466.75" y2="309.21" stroke="#eaffea" stroke-width="0.5" stroke-opacity="0.55"/>
<line x1="484.27" y1="312.57" x2="482.06" y2="306.06" stroke="#eaffea" stroke-width="0.5" stroke-opacity="0.55"/>
<polygon points="487.95,323.44 484.86,314.31 483.03,324.36" fill="#001800" fill-opacity="0.55"/>
<polygon points="509.85,312.05 501.6,305.65 505.41,314.35" fill="#001800" fill-opacity="0.55"/>
<polygon points="515.98,287.17 506.63,287.54 514.78,292.02" fill="#001800" fill-opacity="0.55"/>
<polygon points="508.97,263.17 501.46,270.31 510.37,267.97" fill="#001800" fill-opacity="0.55"/>
<line x1="484.47" y1="257.55" x2="482.93" y2="266.45" stroke="#eaffea" stroke-width="0.5" stroke-opacity="0.55"/>
</g>
<polygon points="58.64,363.21 78.57,355.61 79.99,359.35 60.07,366.95" fill="url(#g67)"/>
<polygon points="79.73,355.53 101.68,360.6 100.78,364.5 78.83,359.43" fill="url(#g68)"/>
<polygon points="100.92,360.57 123.55,357.03 124.17,360.98 101.54,364.52" fill="url(#g69)"/>
<polygon points="124.77,357.22 143.85,367.02 142.03,370.58 122.95,360.78" fill="url(#g70)"/>
<polygon points="144.92,368.52 147.79,388.78 143.83,389.34 140.96,369.08" fill="url(#g71)"/>
<polygon points="147.69,389.75 140.6,409.17 136.84,407.79 143.93,388.37" fill="url(#g72)"/>
<polygon points="139.39,410.36 120.48,417.12 119.13,413.35 138.05,406.6" fill="url(#g73)"/>
<polygon points="119.07,417.09 99.98,409.49 101.46,405.78 120.55,413.38" fill="url(#g74)"/>
<polygon points="101.36,409.53 81.09,416.29 79.83,412.49 100.09,405.74" fill="url(#g75)"/>
<polygon points="79.65,416.22 60.73,407.77 62.36,404.12 81.28,412.56" fill="url(#g76)"/>
<polygon points="59.67,406.64 52.41,386.88 56.16,385.5 63.43,405.26" fill="url(#g77)"/>
<polygon points="52.34,385.72 57.41,364.61 61.3,365.55 56.23,386.66" fill="url(#g78)"/>
<circle cx="59.35" cy="365.08" r="5.7" fill="url(#g79)"/>
<circle cx="79.28" cy="357.48" r="5.7" fill="url(#g79)"/>
<circle cx="101.23" cy="362.55" r="5.7" fill="url(#g79)"/>
<circle cx="123.86" cy="359" r="5.7" fill="url(#g80)"/>
<circle cx="142.94" cy="368.8" r="5.7" fill="url(#g79)"/>
<circle cx="145.81" cy="389.06" r="5.7" fill="url(#g79)"/>
<circle cx="138.72" cy="408.48" r="5.7" fill="url(#g79)"/>
<circle cx="119.81" cy="415.23" r="5.7" fill="url(#g79)"/>
<circle cx="100.72" cy="407.63" r="5.7" fill="url(#g79)"/>
<circle cx="80.46" cy="414.39" r="5.7" fill="url(#g80)"/>
<circle cx="61.55" cy="405.95" r="5.7" fill="url(#g79)"/>
<circle cx="54.29" cy="386.19" r="5.7" fill="url(#g79)"/>
<polygon points="415.04,354.56 437.43,351.33 437.97,355.09 415.58,358.32" fill="url(#g81)"/>
<polygon points="438.51,351.49 459.39,361.36 457.77,364.8 436.89,354.93" fill="url(#g82)"/>
<polygon points="457.77,361.36 477.13,352.25 478.75,355.69 459.39,364.8" fill="url(#g83)"/>
<polygon points="478.23,352.09 502.52,355.89 501.94,359.64 477.64,355.85" fill="url(#g84)"/>
<polygon points="503.92,356.9 513.98,376.45 510.6,378.18 500.54,358.64" fill="url(#g85)"/>
<polygon points="514.18,377.54 511.71,398.42 507.94,397.97 510.4,377.09" fill="url(#g86)"/>
<polygon points="511.23,399.47 497.94,414.08 495.13,411.53 508.42,396.91" fill="url(#g87)"/>
<polygon points="497,414.65 477.45,419.58 476.52,415.9 496.07,410.96" fill="url(#g88)"/>
<polygon points="476.08,419.41 457.67,409.35 459.49,406.01 477.9,416.07" fill="url(#g89)"/>
<polygon points="459.23,409.47 438.35,417.06 437.05,413.49 457.93,405.9" fill="url(#g90)"/>
<polygon points="437.18,417.1 417.25,411.41 418.3,407.75 438.22,413.45" fill="url(#g91)"/>
<polygon points="416.27,410.75 402.99,393.66 405.99,391.33 419.27,408.41" fill="url(#g92)"/>
<polygon points="402.59,392.5 402.59,372.57 406.39,372.57 406.39,392.5" fill="url(#g93)"/>
<polygon points="402.91,371.51 413.73,355.38 416.89,357.5 406.07,373.63" fill="url(#g94)"/>
<circle cx="415.31" cy="356.44" r="5.5" fill="url(#g95)"/>
<circle cx="437.7" cy="353.21" r="5.5" fill="url(#g95)"/>
<circle cx="458.58" cy="363.08" r="5.5" fill="url(#g95)"/>
<circle cx="477.94" cy="353.97" r="5.5" fill="url(#g96)"/>
<circle cx="502.23" cy="357.77" r="5.5" fill="url(#g95)"/>
<circle cx="512.29" cy="377.32" r="5.5" fill="url(#g95)"/>
<circle cx="509.82" cy="398.19" r="5.5" fill="url(#g95)"/>
<circle cx="496.54" cy="412.81" r="5.5" fill="url(#g95)"/>
<circle cx="476.99" cy="417.74" r="5.5" fill="url(#g95)"/>
<circle cx="458.58" cy="407.68" r="5.5" fill="url(#g95)"/>
<circle cx="437.7" cy="415.27" r="5.5" fill="url(#g96)"/>
<circle cx="417.77" cy="409.58" r="5.5" fill="url(#g95)"/>
<circle cx="404.49" cy="392.5" r="5.5" fill="url(#g95)"/>
<circle cx="404.49" cy="372.57" r="5.5" fill="url(#g95)"/>
<rect x="192" y="33.5" width="108.83" height="16" fill="#fff" stroke="#8a8a8a" stroke-width="1"/>
<line x1="198.8" y1="41.1" x2="209.3" y2="41.1" stroke="#0a8a0a" stroke-width="0.9"/>
<text x="221.4" y="44.3" textLength="69" lengthAdjust="spacingAndGlyphs"><tspan dy="0" font-size="8.2" font-weight="normal" fill="#3a3a3a">[</tspan><tspan dy="0" font-size="8.2" font-weight="bold" fill="#000">Cr</tspan><tspan dy="2.6" font-size="5.4" font-weight="bold" fill="#000">5</tspan><tspan dy="-2.6" font-size="8.2" font-weight="bold" fill="#000">Cu</tspan><tspan dy="2.6" font-size="5.4" font-weight="bold" fill="#000">2</tspan><tspan dy="-2.6" font-size="8.2" font-weight="normal" fill="#3a3a3a">F</tspan><tspan dy="2.6" font-size="5.4" font-weight="normal" fill="#555">7</tspan><tspan dy="-2.6" font-size="8.2" font-weight="normal" fill="#3a3a3a">Piv</tspan><tspan dy="2.6" font-size="5.4" font-weight="normal" fill="#555">12</tspan><tspan dy="-2.6" font-size="8.2" font-weight="normal" fill="#3a3a3a">Na]</tspan><tspan dy="-5" font-size="4.6" font-weight="normal" fill="#444">+</tspan></text>
<rect x="42.5" y="132" width="99.4" height="16.5" fill="#fff" stroke="#8a8a8a" stroke-width="1"/>
<line x1="49.3" y1="139.85" x2="59.8" y2="139.85" stroke="#ff0000" stroke-width="0.9"/>
<text x="71.4" y="142.6" textLength="60.6" lengthAdjust="spacingAndGlyphs"><tspan dy="0" font-size="8.2" font-weight="normal" fill="#3a3a3a">[</tspan><tspan dy="0" font-size="8.2" font-weight="bold" fill="#000">Cr</tspan><tspan dy="2.6" font-size="5.4" font-weight="bold" fill="#000">10</tspan><tspan dy="-2.6" font-size="8.2" font-weight="normal" fill="#3a3a3a">F</tspan><tspan dy="2.6" font-size="5.4" font-weight="normal" fill="#555">13</tspan><tspan dy="-2.6" font-size="8.2" font-weight="normal" fill="#3a3a3a">Piv</tspan><tspan dy="2.6" font-size="5.4" font-weight="normal" fill="#555">17</tspan><tspan dy="-2.6" font-size="8.2" font-weight="normal" fill="#3a3a3a">Na]</tspan><tspan dy="-5" font-size="4.6" font-weight="normal" fill="#444">+</tspan></text>
<rect x="42.5" y="230.5" width="153.4" height="16.2" fill="#fff" stroke="#8a8a8a" stroke-width="1"/>
<line x1="49.3" y1="238.2" x2="59.8" y2="238.2" stroke="#0000ff" stroke-width="0.9"/>
<text x="71.9" y="241.4" textLength="106.2" lengthAdjust="spacingAndGlyphs"><tspan dy="0" font-size="8.2" font-weight="normal" fill="#3a3a3a">[</tspan><tspan dy="0" font-size="8.2" font-weight="bold" fill="#000">Cr</tspan><tspan dy="2.6" font-size="5.4" font-weight="bold" fill="#000">10</tspan><tspan dy="-2.6" font-size="8.2" font-weight="bold" fill="#000">Cu</tspan><tspan dy="0" font-size="8.2" font-weight="normal" fill="#3a3a3a">F</tspan><tspan dy="2.6" font-size="5.4" font-weight="normal" fill="#555">14</tspan><tspan dy="-2.6" font-size="8.2" font-weight="normal" fill="#3a3a3a">Piv</tspan><tspan dy="2.6" font-size="5.4" font-weight="normal" fill="#555">19</tspan><tspan dy="-2.6" font-size="8.2" font-weight="normal" fill="#3a3a3a">(NH</tspan><tspan dy="2.6" font-size="5.4" font-weight="normal" fill="#555">2</tspan><tspan dy="-7.2" font-size="5" font-weight="normal" font-style="italic" fill="#444">n</tspan><tspan dy="4.6" font-size="8.2" font-weight="normal" fill="#3a3a3a">Pr</tspan><tspan dy="2.6" font-size="5.4" font-weight="normal" fill="#555">2</tspan><tspan dy="-2.6" font-size="8.2" font-weight="normal" fill="#3a3a3a">)Na]</tspan><tspan dy="-5" font-size="4.6" font-weight="normal" fill="#444">+</tspan></text>
<rect x="42.5" y="329" width="160.9" height="16.4" fill="#fff" stroke="#555" stroke-width="1"/>
<line x1="49.3" y1="336.8" x2="59.8" y2="336.8" stroke="#000000" stroke-width="0.9"/>
<text x="72" y="340" textLength="113.9" lengthAdjust="spacingAndGlyphs"><tspan dy="0" font-size="8.2" font-weight="normal" fill="#3a3a3a">[</tspan><tspan dy="0" font-size="8.2" font-weight="bold" fill="#000">Cr</tspan><tspan dy="2.6" font-size="5.4" font-weight="bold" fill="#000">10</tspan><tspan dy="-2.6" font-size="8.2" font-weight="bold" fill="#000">Cu</tspan><tspan dy="2.6" font-size="5.4" font-weight="bold" fill="#000">2</tspan><tspan dy="-2.6" font-size="8.2" font-weight="normal" fill="#3a3a3a">F</tspan><tspan dy="2.6" font-size="5.4" font-weight="normal" fill="#555">14</tspan><tspan dy="-2.6" font-size="8.2" font-weight="normal" fill="#3a3a3a">Piv</tspan><tspan dy="2.6" font-size="5.4" font-weight="normal" fill="#555">22</tspan><tspan dy="-2.6" font-size="8.2" font-weight="normal" fill="#3a3a3a">(NH</tspan><tspan dy="2.6" font-size="5.4" font-weight="normal" fill="#555">2</tspan><tspan dy="-7.2" font-size="5" font-weight="normal" font-style="italic" fill="#444">n</tspan><tspan dy="4.6" font-size="8.2" font-weight="normal" fill="#3a3a3a">Pr</tspan><tspan dy="2.6" font-size="5.4" font-weight="normal" fill="#555">2</tspan><tspan dy="-2.6" font-size="8.2" font-weight="normal" fill="#3a3a3a">)</tspan><tspan dy="2.6" font-size="5.4" font-weight="normal" fill="#555">2</tspan><tspan dy="-2.6" font-size="8.2" font-weight="normal" fill="#3a3a3a">Na]</tspan><tspan dy="-5" font-size="4.6" font-weight="normal" fill="#444">+</tspan></text>
<rect x="540.5" y="33.5" width="105.5" height="16" fill="#fff" stroke="#8a8a8a" stroke-width="1"/>
<line x1="547.3" y1="41.1" x2="557.8" y2="41.1" stroke="#0a8a0a" stroke-width="0.9"/>
<text x="569.9" y="44.3" textLength="66.3" lengthAdjust="spacingAndGlyphs"><tspan dy="0" font-size="8.2" font-weight="normal" fill="#3a3a3a">[</tspan><tspan dy="0" font-size="8.2" font-weight="bold" fill="#000">Cr</tspan><tspan dy="2.6" font-size="5.4" font-weight="bold" fill="#000">6</tspan><tspan dy="-2.6" font-size="8.2" font-weight="bold" fill="#000">Cu</tspan><tspan dy="0" font-size="8.2" font-weight="normal" fill="#3a3a3a">F</tspan><tspan dy="2.6" font-size="5.4" font-weight="normal" fill="#555">8</tspan><tspan dy="-2.6" font-size="8.2" font-weight="normal" fill="#3a3a3a">Piv</tspan><tspan dy="2.6" font-size="5.4" font-weight="normal" fill="#555">12</tspan><tspan dy="-2.6" font-size="8.2" font-weight="normal" fill="#3a3a3a">Na]</tspan><tspan dy="-5" font-size="4.6" font-weight="normal" fill="#444">+</tspan></text>
<rect x="387.5" y="132" width="99.2" height="16.5" fill="#fff" stroke="#8a8a8a" stroke-width="1"/>
<line x1="394.3" y1="139.85" x2="404.8" y2="139.85" stroke="#ff0000" stroke-width="0.9"/>
<text x="416.7" y="142.6" textLength="59.3" lengthAdjust="spacingAndGlyphs"><tspan dy="0" font-size="8.2" font-weight="normal" fill="#3a3a3a">[</tspan><tspan dy="0" font-size="8.2" font-weight="bold" fill="#000">Cr</tspan><tspan dy="2.6" font-size="5.4" font-weight="bold" fill="#000">12</tspan><tspan dy="-2.6" font-size="8.2" font-weight="normal" fill="#3a3a3a">F</tspan><tspan dy="2.6" font-size="5.4" font-weight="normal" fill="#555">15</tspan><tspan dy="-2.6" font-size="8.2" font-weight="normal" fill="#3a3a3a">Piv</tspan><tspan dy="2.6" font-size="5.4" font-weight="normal" fill="#555">21</tspan><tspan dy="-2.6" font-size="8.2" font-weight="normal" fill="#3a3a3a">Na]</tspan><tspan dy="-5" font-size="4.6" font-weight="normal" fill="#444">+</tspan></text>
<rect x="387.5" y="230.5" width="112.5" height="16.2" fill="#fff" stroke="#555" stroke-width="1"/>
<line x1="394.3" y1="238.2" x2="404.8" y2="238.2" stroke="#0000ff" stroke-width="0.9"/>
<text x="416.8" y="241.3" textLength="71.9" lengthAdjust="spacingAndGlyphs"><tspan dy="0" font-size="8.2" font-weight="normal" fill="#3a3a3a">[</tspan><tspan dy="0" font-size="8.2" font-weight="bold" fill="#000">Cr</tspan><tspan dy="2.6" font-size="5.4" font-weight="bold" fill="#000">12</tspan><tspan dy="-2.6" font-size="8.2" font-weight="bold" fill="#000">Cu</tspan><tspan dy="0" font-size="8.2" font-weight="normal" fill="#3a3a3a">F</tspan><tspan dy="2.6" font-size="5.4" font-weight="normal" fill="#555">16</tspan><tspan dy="-2.6" font-size="8.2" font-weight="normal" fill="#3a3a3a">Piv</tspan><tspan dy="2.6" font-size="5.4" font-weight="normal" fill="#555">23</tspan><tspan dy="-2.6" font-size="8.2" font-weight="normal" fill="#3a3a3a">Na]</tspan><tspan dy="-5" font-size="4.6" font-weight="normal" fill="#444">+</tspan></text>
<rect x="387.5" y="329" width="158.3" height="16.4" fill="#fff" stroke="#555" stroke-width="1"/>
<line x1="394.3" y1="336.8" x2="404.8" y2="336.8" stroke="#000000" stroke-width="0.9"/>
<text x="416.6" y="340" textLength="110.5" lengthAdjust="spacingAndGlyphs"><tspan dy="0" font-size="8.2" font-weight="normal" fill="#3a3a3a">[</tspan><tspan dy="0" font-size="8.2" font-weight="bold" fill="#000">Cr</tspan><tspan dy="2.6" font-size="5.4" font-weight="bold" fill="#000">12</tspan><tspan dy="-2.6" font-size="8.2" font-weight="bold" fill="#000">Cu</tspan><tspan dy="2.6" font-size="5.4" font-weight="bold" fill="#000">2</tspan><tspan dy="-2.6" font-size="8.2" font-weight="normal" fill="#3a3a3a">F</tspan><tspan dy="2.6" font-size="5.4" font-weight="normal" fill="#555">16</tspan><tspan dy="-2.6" font-size="8.2" font-weight="normal" fill="#3a3a3a">Piv</tspan><tspan dy="2.6" font-size="5.4" font-weight="normal" fill="#555">26</tspan><tspan dy="-2.6" font-size="8.2" font-weight="normal" fill="#3a3a3a">Na(NH</tspan><tspan dy="2.6" font-size="5.4" font-weight="normal" fill="#555">2</tspan><tspan dy="-7.2" font-size="5" font-weight="normal" font-style="italic" fill="#444">i</tspan><tspan dy="4.6" font-size="8.2" font-weight="normal" fill="#3a3a3a">Pr</tspan><tspan dy="2.6" font-size="5.4" font-weight="normal" fill="#555">2</tspan><tspan dy="-2.6" font-size="8.2" font-weight="normal" fill="#3a3a3a">)</tspan><tspan dy="2.6" font-size="5.4" font-weight="normal" fill="#555">2</tspan><tspan dy="-2.6" font-size="8.2" font-weight="normal" fill="#3a3a3a">]</tspan><tspan dy="-5" font-size="4.6" font-weight="normal" fill="#444">+</tspan></text>
<path d="M42.5 132 L90.3 132 L91.6 131 L92.8 125.5 L94.2 98 L95.6 66 L96.6 53.5 L97.6 47 L98.5 54 L99.4 68 L100.6 98 L101.7 121 L102.8 130.2 L104.3 132 L300.83 132" fill="none" stroke="#0a8a0a" stroke-width="1" stroke-linejoin="round"/>
<path d="M42.5 230.5 L158 230.48 L158.5 230.47 L159 230.45 L159.5 230.42 L160 230.37 L160.5 230.29 L161 230.16 L161.5 229.96 L162 229.67 L162.5 229.24 L163 228.64 L163.5 227.79 L164 226.63 L164.5 225.09 L165 223.08 L165.5 220.51 L166 217.31 L166.5 213.42 L167 208.81 L167.5 203.48 L168 197.47 L168.5 190.91 L169 183.94 L169.5 176.8 L170 169.74 L170.5 163.07 L171 157.1 L171.5 152.12 L172 148.41 L172.5 146.16 L173 145.51 L173.5 146.49 L174 149.04 L174.5 153.02 L175 158.22 L175.5 164.36 L176 171.13 L176.5 178.23 L177 185.36 L177.5 192.26 L178 198.72 L178.5 204.6 L179 209.79 L179.5 214.26 L180 218.01 L180.5 221.07 L181 223.52 L181.5 225.44 L182 226.89 L182.5 227.98 L183 228.77 L183.5 229.34 L184 229.74 L184.5 230.01 L185 230.19 L185.5 230.3 L186 230.38 L186.5 230.43 L187 230.46 L187.5 230.48 L188 230.49 L300.5 230.5" fill="none" stroke="#ff0000" stroke-width="1" stroke-linejoin="round"/>
<path d="M42.5 329 L185 328.98 L185.5 328.97 L186 328.95 L186.5 328.92 L187 328.88 L187.5 328.81 L188 328.71 L188.5 328.57 L189 328.36 L189.5 328.06 L190 327.64 L190.5 327.06 L191 326.29 L191.5 325.27 L192 323.94 L192.5 322.24 L193 320.11 L193.5 317.5 L194 314.34 L194.5 310.62 L195 306.3 L195.5 301.4 L196 295.97 L196.5 290.08 L197 283.86 L197.5 277.44 L198 271.04 L198.5 264.84 L199 259.08 L199.5 253.99 L200 249.77 L200.5 246.62 L201 244.66 L201.5 244 L202 244.66 L202.5 246.62 L203 249.77 L203.5 253.99 L204 259.08 L204.5 264.84 L205 271.04 L205.5 277.44 L206 283.86 L206.5 290.08 L207 295.97 L207.5 301.4 L208 306.3 L208.5 310.62 L209 314.34 L209.5 317.5 L210 320.11 L210.5 322.24 L211 323.94 L211.5 325.27 L212 326.29 L212.5 327.06 L213 327.64 L213.5 328.06 L214 328.36 L214.5 328.57 L215 328.71 L215.5 328.81 L216 328.88 L216.5 328.92 L217 328.95 L217.5 328.97 L218 328.98 L300.5 329" fill="none" stroke="#0000ff" stroke-width="1" stroke-linejoin="round"/>
<path d="M42.5 427.5 L218.5 427.49 L219 427.48 L219.5 427.46 L220 427.43 L220.5 427.4 L221 427.34 L221.5 427.25 L222 427.12 L222.5 426.93 L223 426.66 L223.5 426.28 L224 425.75 L224.5 425.04 L225 424.1 L225.5 422.87 L226 421.29 L226.5 419.3 L227 416.84 L227.5 413.85 L228 410.3 L228.5 406.16 L229 401.43 L229.5 396.15 L230 390.39 L230.5 384.25 L231 377.88 L231.5 371.45 L232 365.16 L232.5 359.25 L233 353.93 L233.5 349.43 L234 345.94 L234.5 343.61 L235 342.56 L235.5 342.64 L236 343.32 L236.5 344.56 L237 346.32 L237.5 348.58 L238 351.29 L238.5 354.4 L239 357.85 L239.5 361.58 L240 365.53 L240.5 369.64 L241 373.83 L241.5 378.06 L242 382.25 L242.5 386.37 L243 390.36 L243.5 394.19 L244 397.83 L244.5 401.24 L245 404.42 L245.5 407.35 L246 410.02 L246.5 412.45 L247 414.62 L247.5 416.55 L248 418.26 L248.5 419.75 L249 421.04 L249.5 422.16 L250 423.11 L250.5 423.92 L251 424.59 L251.5 425.16 L252 425.63 L252.5 426.01 L253 426.33 L253.5 426.58 L254 426.78 L254.5 426.94 L255 427.07 L255.5 427.17 L256 427.25 L256.5 427.31 L257 427.36 L257.5 427.4 L258 427.42 L258.5 427.44 L259 427.46 L259.5 427.47 L260 427.48 L260.5 427.48 L300.5 427.5" fill="none" stroke="#000000" stroke-width="1.15" stroke-linejoin="round"/>
<path d="M387.5 132 L428.8 132 L430.6 130.5 L432.4 121 L433.8 92 L435 63 L435.7 54 L436.8 50.5 L437.7 47 L438.6 56 L439.6 78 L440.7 102 L442 123 L443.3 130.6 L445 132 L646 132" fill="none" stroke="#0a8a0a" stroke-width="1" stroke-linejoin="round"/>
<path d="M387.5 230.5 L525.5 230.48 L526 230.47 L526.5 230.46 L527 230.43 L527.5 230.39 L528 230.34 L528.5 230.26 L529 230.15 L529.5 230 L530 229.78 L530.5 229.49 L531 229.09 L531.5 228.56 L532 227.87 L532.5 226.97 L533 225.83 L533.5 224.4 L534 222.63 L534.5 220.49 L535 217.91 L535.5 214.89 L536 211.38 L536.5 207.38 L537 202.9 L537.5 197.99 L538 192.68 L538.5 187.08 L539 181.29 L539.5 175.44 L540 169.68 L540.5 164.18 L541 159.12 L541.5 154.65 L542 150.94 L542.5 148.12 L543 146.29 L543.5 145.52 L544 145.79 L544.5 146.98 L545 149.04 L545.5 151.9 L546 155.49 L546.5 159.68 L547 164.36 L547.5 169.4 L548 174.66 L548.5 180.02 L549 185.36 L549.5 190.57 L550 195.56 L550.5 200.25 L551 204.6 L551.5 208.56 L552 212.12 L552.5 215.26 L553 218.01 L553.5 220.37 L554 222.37 L554.5 224.05 L555 225.44 L555.5 226.57 L556 227.48 L556.5 228.2 L557 228.77 L557.5 229.22 L558 229.56 L558.5 229.81 L559 230.01 L559.5 230.15 L560 230.25 L560.5 230.33 L561 230.38 L561.5 230.42 L562 230.45 L562.5 230.46 L563 230.48 L563.5 230.48 L646 230.5" fill="none" stroke="#ff0000" stroke-width="1" stroke-linejoin="round"/>
<path d="M387.5 329 L547.5 328.98 L548 328.97 L548.5 328.96 L549 328.94 L549.5 328.92 L550 328.88 L550.5 328.84 L551 328.77 L551.5 328.69 L552 328.57 L552.5 328.41 L553 328.21 L553.5 327.94 L554 327.6 L554.5 327.16 L555 326.61 L555.5 325.93 L556 325.08 L556.5 324.05 L557 322.8 L557.5 321.31 L558 319.55 L558.5 317.5 L559 315.12 L559.5 312.41 L560 309.35 L560.5 305.94 L561 302.19 L561.5 298.12 L562 293.76 L562.5 289.14 L563 284.34 L563.5 279.43 L564 274.47 L564.5 269.58 L565 264.84 L565.5 260.36 L566 256.24 L566.5 252.59 L567 249.49 L567.5 247.03 L568 245.26 L568.5 244.25 L569 244.01 L569.5 244.5 L570 245.68 L570.5 247.52 L571 249.98 L571.5 252.99 L572 256.48 L572.5 260.39 L573 264.62 L573.5 269.09 L574 273.7 L574.5 278.38 L575 283.05 L575.5 287.63 L576 292.06 L576.5 296.28 L577 300.26 L577.5 303.97 L578 307.37 L578.5 310.47 L579 313.25 L579.5 315.73 L580 317.91 L580.5 319.81 L581 321.44 L581.5 322.84 L582 324.02 L582.5 325 L583 325.82 L583.5 326.49 L584 327.04 L584.5 327.48 L585 327.83 L585.5 328.11 L586 328.32 L586.5 328.49 L587 328.62 L587.5 328.72 L588 328.8 L588.5 328.85 L589 328.89 L589.5 328.92 L590 328.95 L590.5 328.96 L591 328.97 L591.5 328.98 L646 329" fill="none" stroke="#0000ff" stroke-width="1" stroke-linejoin="round"/>
<path d="M387.5 427.5 L583.5 427.48 L584 427.48 L584.5 427.46 L585 427.44 L585.5 427.41 L586 427.37 L586.5 427.31 L587 427.22 L587.5 427.09 L588 426.91 L588.5 426.67 L589 426.35 L589.5 425.92 L590 425.35 L590.5 424.61 L591 423.66 L591.5 422.47 L592 420.99 L592.5 419.17 L593 416.99 L593.5 414.38 L594 411.34 L594.5 407.84 L595 403.87 L595.5 399.44 L596 394.6 L596.5 389.39 L597 383.9 L597.5 378.23 L598 372.51 L598.5 366.88 L599 361.49 L599.5 356.5 L600 352.07 L600.5 348.35 L601 345.47 L601.5 343.52 L602 342.58 L602.5 342.67 L603 343.72 L603.5 345.69 L604 348.51 L604.5 352.09 L605 356.32 L605.5 361.07 L606 366.2 L606.5 371.57 L607 377.04 L607.5 382.49 L608 387.81 L608.5 392.89 L609 397.65 L609.5 402.06 L610 406.05 L610.5 409.63 L611 412.77 L611.5 415.5 L612 417.83 L612.5 419.8 L613 421.43 L613.5 422.78 L614 423.86 L614.5 424.73 L615 425.42 L615.5 425.95 L616 426.36 L616.5 426.67 L617 426.9 L617.5 427.08 L618 427.2 L618.5 427.29 L619 427.36 L619.5 427.4 L620 427.43 L620.5 427.46 L621 427.47 L621.5 427.48 L646 427.5" fill="none" stroke="#000000" stroke-width="1.15" stroke-linejoin="round"/>
<text x="234" y="92.6" fill="#000" textLength="47.7" lengthAdjust="spacingAndGlyphs"><tspan dy="0" font-size="10.6" font-weight="normal">{</tspan><tspan dy="0" font-size="10.6" font-weight="bold">Cr</tspan><tspan dy="4" font-size="8.2" font-weight="bold">5</tspan><tspan dy="-4" font-size="10.6" font-weight="bold">Cu</tspan><tspan dy="4" font-size="8.2" font-weight="bold">2</tspan><tspan dy="-4" font-size="10.6" font-weight="normal">}</tspan></text>
<text x="240.1" y="191.9" fill="#000" textLength="30.7" lengthAdjust="spacingAndGlyphs"><tspan dy="0" font-size="10.6" font-weight="normal">{</tspan><tspan dy="0" font-size="10.6" font-weight="bold">Cr</tspan><tspan dy="4" font-size="8.2" font-weight="bold">10</tspan><tspan dy="-4" font-size="10.6" font-weight="normal">}</tspan></text>
<text x="234" y="288.4" fill="#000" textLength="47.4" lengthAdjust="spacingAndGlyphs"><tspan dy="0" font-size="10.6" font-weight="normal">{</tspan><tspan dy="0" font-size="10.6" font-weight="bold">Cr</tspan><tspan dy="4" font-size="8.2" font-weight="bold">10</tspan><tspan dy="-4" font-size="10.6" font-weight="bold">Cu</tspan><tspan dy="0" font-size="10.6" font-weight="normal">}</tspan></text>
<text x="170" y="392.5" fill="#000" textLength="52.1" lengthAdjust="spacingAndGlyphs"><tspan dy="0" font-size="10.6" font-weight="normal">{</tspan><tspan dy="0" font-size="10.6" font-weight="bold">Cr</tspan><tspan dy="4" font-size="8.2" font-weight="bold">10</tspan><tspan dy="-4" font-size="10.6" font-weight="bold">Cu</tspan><tspan dy="4" font-size="8.2" font-weight="bold">2</tspan><tspan dy="-4" font-size="10.6" font-weight="normal">}</tspan></text>
<text x="592.8" y="92.4" fill="#000" textLength="43.4" lengthAdjust="spacingAndGlyphs"><tspan dy="0" font-size="10.6" font-weight="normal">{</tspan><tspan dy="0" font-size="10.6" font-weight="bold">Cr</tspan><tspan dy="4" font-size="8.2" font-weight="bold">6</tspan><tspan dy="-4" font-size="10.6" font-weight="bold">Cu</tspan><tspan dy="0" font-size="10.6" font-weight="normal">}</tspan></text>
<text x="594.1" y="191.9" fill="#000" textLength="30.7" lengthAdjust="spacingAndGlyphs"><tspan dy="0" font-size="10.6" font-weight="normal">{</tspan><tspan dy="0" font-size="10.6" font-weight="bold">Cr</tspan><tspan dy="4" font-size="8.2" font-weight="bold">12</tspan><tspan dy="-4" font-size="10.6" font-weight="normal">}</tspan></text>
<text x="590.7" y="289.9" fill="#000" textLength="46.5" lengthAdjust="spacingAndGlyphs"><tspan dy="0" font-size="10.6" font-weight="normal">{</tspan><tspan dy="0" font-size="10.6" font-weight="bold">Cr</tspan><tspan dy="4" font-size="8.2" font-weight="bold">12</tspan><tspan dy="-4" font-size="10.6" font-weight="bold">Cu</tspan><tspan dy="0" font-size="10.6" font-weight="normal">}</tspan></text>
<text x="536.6" y="387.6" fill="#000" textLength="51.6" lengthAdjust="spacingAndGlyphs"><tspan dy="0" font-size="10.6" font-weight="normal">{</tspan><tspan dy="0" font-size="10.6" font-weight="bold">Cr</tspan><tspan dy="4" font-size="8.2" font-weight="bold">12</tspan><tspan dy="-4" font-size="10.6" font-weight="bold">Cu</tspan><tspan dy="4" font-size="8.2" font-weight="bold">2</tspan><tspan dy="-4" font-size="10.6" font-weight="normal">}</tspan></text>
<text x="170" y="467.9" font-size="11.6" fill="#222" text-anchor="middle">CCS<tspan dy="2.8" font-size="7">N2</tspan><tspan dy="-2.8" font-size="11.6"> (Å</tspan><tspan dy="-4.6" font-size="7">2</tspan><tspan dy="4.6" font-size="11.6">)</tspan></text>
<text x="515.5" y="467.9" font-size="11.6" fill="#222" text-anchor="middle">CCS<tspan dy="2.8" font-size="7">N2</tspan><tspan dy="-2.8" font-size="11.6"> (Å</tspan><tspan dy="-4.6" font-size="7">2</tspan><tspan dy="4.6" font-size="11.6">)</tspan></text>
<text transform="translate(27.3 183) rotate(-90)" font-size="12" fill="#222" text-anchor="middle" textLength="47.7" lengthAdjust="spacingAndGlyphs">Products</text>
<text transform="translate(27.3 375.8) rotate(-90)" font-size="12" fill="#222" text-anchor="middle" textLength="51.5" lengthAdjust="spacingAndGlyphs">Precursor</text>
<text transform="translate(658 188) rotate(90)" font-size="12" fill="#222" text-anchor="middle" textLength="47.7" lengthAdjust="spacingAndGlyphs">Products</text>
<text transform="translate(658 378.7) rotate(90)" font-size="12" fill="#222" text-anchor="middle" textLength="51.5" lengthAdjust="spacingAndGlyphs">Precursor</text>
<text transform="translate(355.4 229.7) rotate(-90)" font-size="11.5" fill="#222" text-anchor="middle" textLength="113" lengthAdjust="spacingAndGlyphs">Normalized intensity</text>
<text x="-0.6" y="14.4" font-size="18" text-anchor="start" font-weight="bold" fill="#000">a</text>
<text x="349.8" y="14.6" font-size="18" text-anchor="start" font-weight="bold" fill="#000">b</text>
</svg>
</body></html>
